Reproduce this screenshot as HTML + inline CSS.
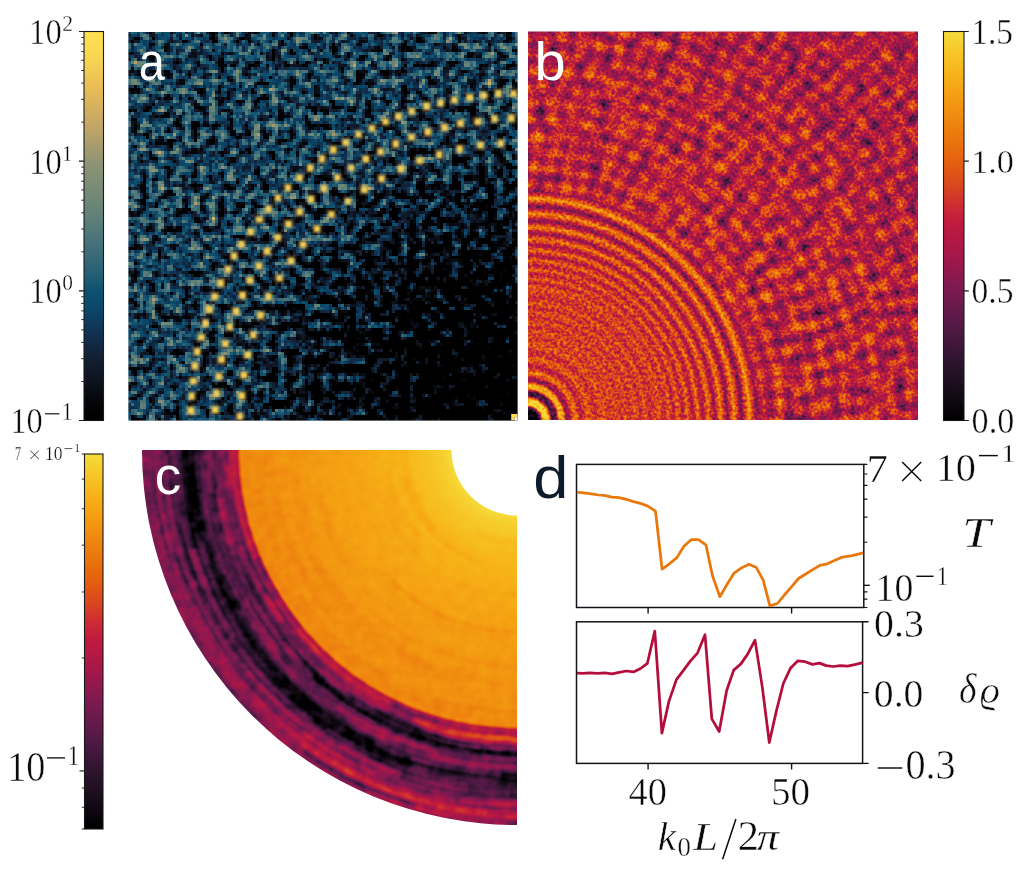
<!DOCTYPE html>
<html><head><meta charset="utf-8"><title>figure</title>
<style>
html,body{margin:0;padding:0;background:#fff}
body{width:1024px;height:895px;overflow:hidden}
svg{display:block}
text{font-family:"Liberation Serif",serif;fill:#111}
</style></head><body>
<svg width="1024" height="895" viewBox="0 0 1024 895">
<defs>
<linearGradient id="gA" x1="0" y1="0" x2="0" y2="1"><stop offset="0.0000" stop-color="#fde24f"/><stop offset="0.0700" stop-color="#f7d552"/><stop offset="0.1450" stop-color="#e9bc55"/><stop offset="0.2500" stop-color="#c0a468"/><stop offset="0.3360" stop-color="#8f9474"/><stop offset="0.4000" stop-color="#7a8c76"/><stop offset="0.4800" stop-color="#5f8078"/><stop offset="0.5500" stop-color="#44707a"/><stop offset="0.6100" stop-color="#2a6375"/><stop offset="0.6670" stop-color="#0d5271"/><stop offset="0.7200" stop-color="#0b4466"/><stop offset="0.7800" stop-color="#10304e"/><stop offset="0.8400" stop-color="#131f33"/><stop offset="0.9000" stop-color="#0d121c"/><stop offset="0.9500" stop-color="#050609"/><stop offset="1.0000" stop-color="#000000"/></linearGradient>
<linearGradient id="gB" x1="0" y1="0" x2="0" y2="1"><stop offset="0.0000" stop-color="#f5dc3a"/><stop offset="0.0500" stop-color="#f7c828"/><stop offset="0.1060" stop-color="#f8b418"/><stop offset="0.1600" stop-color="#f5a012"/><stop offset="0.2200" stop-color="#f08a10"/><stop offset="0.2800" stop-color="#ea750c"/><stop offset="0.3360" stop-color="#e5600f"/><stop offset="0.4000" stop-color="#d94520"/><stop offset="0.4500" stop-color="#cc2b34"/><stop offset="0.4950" stop-color="#c01a3e"/><stop offset="0.5800" stop-color="#a3174b"/><stop offset="0.6670" stop-color="#7a1a50"/><stop offset="0.7530" stop-color="#551a48"/><stop offset="0.8400" stop-color="#301530"/><stop offset="0.9250" stop-color="#150c18"/><stop offset="1.0000" stop-color="#000000"/></linearGradient>
<clipPath id="cpT"><rect x="576.50" y="464.40" width="287.30" height="143.10"/></clipPath>
<clipPath id="cpB"><rect x="576.50" y="621.80" width="287.30" height="141.60"/></clipPath>
<radialGradient id="gaR" gradientUnits="userSpaceOnUse" cx="517.5" cy="420.5" r="560"><stop offset="0.0000" stop-color="#1f1f1f"/><stop offset="0.1607" stop-color="#2b2b2b"/><stop offset="0.2679" stop-color="#454545"/><stop offset="0.3750" stop-color="#616161"/><stop offset="0.4643" stop-color="#787878"/><stop offset="0.4946" stop-color="#808080"/><stop offset="0.5893" stop-color="#8c8c8c"/><stop offset="0.6429" stop-color="#919191"/><stop offset="1.0000" stop-color="#919191"/></radialGradient>
<filter id="fA" filterUnits="userSpaceOnUse" x="128" y="31" width="393" height="393" color-interpolation-filters="sRGB">
<feTurbulence type="fractalNoise" baseFrequency="0.115" numOctaves="3" seed="11" result="n"/>
<feColorMatrix in="n" type="matrix" values="1 0 0 0 0 1 0 0 0 0 1 0 0 0 0 0 0 0 0 1" result="ng"/>
<feComposite in="SourceGraphic" in2="ng" operator="arithmetic" k1="0" k2="1" k3="1.3" k4="-0.955" result="v"/>
<feFlood x="129" y="32" width="1" height="1" flood-color="#000" result="dot"/>
<feComposite in="dot" in2="dot" operator="over" x="128" y="31" width="3" height="3" result="cell"/>
<feTile in="cell" result="grid"/>
<feComposite in="v" in2="grid" operator="in" result="samp"/>
<feMorphology in="samp" operator="dilate" radius="1" result="pix"/>
<feGaussianBlur in="pix" stdDeviation="0.75" result="pixb"/>
<feComponentTransfer in="pixb"><feFuncR type="table" tableValues="0.000 0.010 0.020 0.035 0.051 0.061 0.071 0.072 0.067 0.061 0.053 0.045 0.046 0.050 0.085 0.135 0.182 0.224 0.267 0.304 0.342 0.379 0.412 0.445 0.478 0.511 0.543 0.585 0.641 0.697 0.753 0.791 0.830 0.868 0.906 0.928 0.947 0.965 0.975 0.984 0.992"/><feFuncG type="table" tableValues="0.000 0.012 0.024 0.047 0.071 0.092 0.113 0.138 0.166 0.195 0.227 0.260 0.287 0.313 0.341 0.371 0.397 0.418 0.439 0.462 0.484 0.505 0.520 0.534 0.549 0.561 0.574 0.588 0.607 0.625 0.643 0.666 0.688 0.710 0.733 0.763 0.796 0.829 0.850 0.868 0.886"/><feFuncB type="table" tableValues="0.000 0.018 0.035 0.073 0.110 0.147 0.185 0.226 0.271 0.314 0.353 0.392 0.416 0.437 0.448 0.455 0.462 0.470 0.478 0.476 0.473 0.470 0.468 0.465 0.463 0.460 0.457 0.449 0.435 0.422 0.408 0.390 0.372 0.355 0.337 0.330 0.326 0.322 0.318 0.314 0.310"/></feComponentTransfer>
</filter>
<clipPath id="cpPA"><rect x="128.50" y="32.00" width="389.00" height="388.50"/></clipPath>
<filter id="blA" filterUnits="userSpaceOnUse" x="120" y="24" width="408" height="408"><feGaussianBlur stdDeviation="0.9"/></filter>
<radialGradient id="gbR" gradientUnits="userSpaceOnUse" cx="528.0" cy="420.0" r="560.0"><stop offset="0.0000" stop-color="#000000"/><stop offset="0.0170" stop-color="#000000"/><stop offset="0.0223" stop-color="#595959"/><stop offset="0.0268" stop-color="#ffffff"/><stop offset="0.0357" stop-color="#ffffff"/><stop offset="0.0429" stop-color="#383838"/><stop offset="0.0500" stop-color="#383838"/><stop offset="0.0563" stop-color="#e0e0e0"/><stop offset="0.0625" stop-color="#e0e0e0"/><stop offset="0.0688" stop-color="#666666"/><stop offset="0.0732" stop-color="#666666"/><stop offset="0.0830" stop-color="#bdbdbd"/><stop offset="0.0955" stop-color="#7a7a7a"/><stop offset="0.1080" stop-color="#ababab"/><stop offset="0.1205" stop-color="#878787"/><stop offset="0.1330" stop-color="#a3a3a3"/><stop offset="0.1455" stop-color="#919191"/><stop offset="0.1571" stop-color="#9e9e9e"/><stop offset="0.1659" stop-color="#8c8c8c"/><stop offset="0.1746" stop-color="#9f9f9f"/><stop offset="0.1834" stop-color="#8a8a8a"/><stop offset="0.1921" stop-color="#a1a1a1"/><stop offset="0.2009" stop-color="#898989"/><stop offset="0.2096" stop-color="#a2a2a2"/><stop offset="0.2184" stop-color="#888888"/><stop offset="0.2366" stop-color="#a2a2a2"/><stop offset="0.2442" stop-color="#848484"/><stop offset="0.2518" stop-color="#a5a5a5"/><stop offset="0.2598" stop-color="#7f7f7f"/><stop offset="0.2679" stop-color="#a9a9a9"/><stop offset="0.2763" stop-color="#797979"/><stop offset="0.2848" stop-color="#aeaeae"/><stop offset="0.2938" stop-color="#737373"/><stop offset="0.3027" stop-color="#b3b3b3"/><stop offset="0.3125" stop-color="#6c6c6c"/><stop offset="0.3223" stop-color="#b9b9b9"/><stop offset="0.3330" stop-color="#646464"/><stop offset="0.3438" stop-color="#c0c0c0"/><stop offset="0.3558" stop-color="#5b5b5b"/><stop offset="0.3679" stop-color="#c7c7c7"/><stop offset="0.3812" stop-color="#505050"/><stop offset="0.3946" stop-color="#d0d0d0"/><stop offset="0.4080" stop-color="#616161"/><stop offset="0.4214" stop-color="#969696"/><stop offset="0.4359" stop-color="#636363"/><stop offset="0.4504" stop-color="#969696"/><stop offset="0.4648" stop-color="#636363"/><stop offset="0.4793" stop-color="#969696"/><stop offset="0.4938" stop-color="#636363"/><stop offset="0.5082" stop-color="#969696"/><stop offset="0.5227" stop-color="#636363"/><stop offset="0.5371" stop-color="#969696"/><stop offset="0.5516" stop-color="#636363"/><stop offset="0.5661" stop-color="#959595"/><stop offset="0.5805" stop-color="#616161"/><stop offset="0.5950" stop-color="#949494"/><stop offset="0.6095" stop-color="#616161"/><stop offset="0.6239" stop-color="#929292"/><stop offset="0.6384" stop-color="#606060"/><stop offset="0.6529" stop-color="#909090"/><stop offset="0.6673" stop-color="#5f5f5f"/><stop offset="0.6818" stop-color="#8e8e8e"/><stop offset="0.6963" stop-color="#5e5e5e"/><stop offset="0.7107" stop-color="#8c8c8c"/><stop offset="0.7252" stop-color="#5e5e5e"/><stop offset="0.7396" stop-color="#8b8b8b"/><stop offset="0.7541" stop-color="#5d5d5d"/><stop offset="0.7686" stop-color="#898989"/><stop offset="0.7830" stop-color="#5c5c5c"/><stop offset="0.7975" stop-color="#878787"/><stop offset="0.8120" stop-color="#5b5b5b"/><stop offset="0.8264" stop-color="#858585"/><stop offset="0.8409" stop-color="#5b5b5b"/><stop offset="0.8554" stop-color="#838383"/><stop offset="0.8698" stop-color="#5a5a5a"/><stop offset="0.8843" stop-color="#828282"/><stop offset="0.8988" stop-color="#595959"/><stop offset="0.9132" stop-color="#808080"/><stop offset="0.9277" stop-color="#595959"/><stop offset="0.9421" stop-color="#7e7e7e"/><stop offset="0.9566" stop-color="#585858"/><stop offset="0.9711" stop-color="#7c7c7c"/><stop offset="0.9855" stop-color="#575757"/></radialGradient>
<filter id="fB1" filterUnits="userSpaceOnUse" x="528.0" y="31.5" width="390.0" height="388.5" color-interpolation-filters="sRGB"><feTurbulence type="fractalNoise" baseFrequency="0.075" numOctaves="1" seed="3" result="n1"/><feColorMatrix type="matrix" values="1 0 0 0 0 1 0 0 0 0 1 0 0 0 0 0 0 0 0 1" in="n1" result="g1"/><feTurbulence type="fractalNoise" baseFrequency="0.33" numOctaves="2" seed="7" result="n2"/><feColorMatrix type="matrix" values="1 0 0 0 0 1 0 0 0 0 1 0 0 0 0 0 0 0 0 1" in="n2" result="g2"/><feComposite in="SourceGraphic" in2="g1" operator="arithmetic" k1="0" k2="1" k3="0.550" k4="-0.275" result="v1"/><feComposite in="v1" in2="g2" operator="arithmetic" k1="0" k2="1" k3="0.520" k4="-0.260" result="v"/><feGaussianBlur in="v" stdDeviation="0.6"/><feComponentTransfer><feFuncR type="table" tableValues="0.000 0.027 0.055 0.082 0.113 0.145 0.176 0.213 0.255 0.297 0.338 0.381 0.423 0.465 0.510 0.556 0.602 0.646 0.679 0.713 0.746 0.774 0.800 0.825 0.851 0.869 0.888 0.902 0.911 0.920 0.929 0.939 0.948 0.956 0.963 0.968 0.972 0.970 0.969 0.965 0.961"/><feFuncG type="table" tableValues="0.000 0.016 0.031 0.047 0.057 0.068 0.078 0.086 0.091 0.097 0.102 0.102 0.102 0.102 0.100 0.096 0.093 0.091 0.094 0.098 0.101 0.132 0.169 0.220 0.271 0.312 0.353 0.393 0.429 0.466 0.500 0.534 0.570 0.606 0.642 0.678 0.714 0.749 0.784 0.824 0.863"/><feFuncB type="table" tableValues="0.000 0.031 0.063 0.094 0.122 0.149 0.177 0.204 0.232 0.259 0.283 0.293 0.302 0.311 0.310 0.304 0.299 0.291 0.276 0.261 0.246 0.226 0.204 0.165 0.125 0.099 0.073 0.057 0.051 0.048 0.055 0.061 0.065 0.069 0.075 0.086 0.101 0.129 0.157 0.192 0.227"/></feComponentTransfer></filter>
<filter id="fB2" filterUnits="userSpaceOnUse" x="528.0" y="31.5" width="390.0" height="388.5" color-interpolation-filters="sRGB"><feTurbulence type="fractalNoise" baseFrequency="0.33" numOctaves="2" seed="7" result="n2"/><feColorMatrix type="matrix" values="1 0 0 0 0 1 0 0 0 0 1 0 0 0 0 0 0 0 0 1" in="n2" result="g2"/><feComposite in="SourceGraphic" in2="g2" operator="arithmetic" k1="0" k2="1" k3="0.520" k4="-0.260" result="v"/><feGaussianBlur in="v" stdDeviation="0.6"/><feComponentTransfer><feFuncR type="table" tableValues="0.000 0.027 0.055 0.082 0.113 0.145 0.176 0.213 0.255 0.297 0.338 0.381 0.423 0.465 0.510 0.556 0.602 0.646 0.679 0.713 0.746 0.774 0.800 0.825 0.851 0.869 0.888 0.902 0.911 0.920 0.929 0.939 0.948 0.956 0.963 0.968 0.972 0.970 0.969 0.965 0.961"/><feFuncG type="table" tableValues="0.000 0.016 0.031 0.047 0.057 0.068 0.078 0.086 0.091 0.097 0.102 0.102 0.102 0.102 0.100 0.096 0.093 0.091 0.094 0.098 0.101 0.132 0.169 0.220 0.271 0.312 0.353 0.393 0.429 0.466 0.500 0.534 0.570 0.606 0.642 0.678 0.714 0.749 0.784 0.824 0.863"/><feFuncB type="table" tableValues="0.000 0.031 0.063 0.094 0.122 0.149 0.177 0.204 0.232 0.259 0.283 0.293 0.302 0.311 0.310 0.304 0.299 0.291 0.276 0.261 0.246 0.226 0.204 0.165 0.125 0.099 0.073 0.057 0.051 0.048 0.055 0.061 0.065 0.069 0.075 0.086 0.101 0.129 0.157 0.192 0.227"/></feComponentTransfer></filter>
<filter id="blB" x="-5%%" y="-5%%" width="110%%" height="110%%"><feGaussianBlur stdDeviation="2.2"/></filter>
<clipPath id="cpPB"><rect x="528.00" y="31.50" width="390.00" height="388.50"/></clipPath>
<clipPath id="cpBin"><circle cx="528.0" cy="420.0" r="228.5"/></clipPath>
<radialGradient id="gcR" gradientUnits="userSpaceOnUse" cx="517.0" cy="450.0" r="376"><stop offset="0.0000" stop-color="#ffffff"/><stop offset="0.1729" stop-color="#ffffff"/><stop offset="0.1995" stop-color="#f6f6f6"/><stop offset="0.2926" stop-color="#e6e6e6"/><stop offset="0.4255" stop-color="#dadada"/><stop offset="0.5851" stop-color="#d0d0d0"/><stop offset="0.7128" stop-color="#c8c8c8"/><stop offset="0.7340" stop-color="#c6c6c6"/><stop offset="0.7434" stop-color="#7d7d7d"/><stop offset="0.7713" stop-color="#797979"/><stop offset="0.7899" stop-color="#6b6b6b"/><stop offset="0.8059" stop-color="#4c4c4c"/><stop offset="0.8218" stop-color="#474747"/><stop offset="0.8404" stop-color="#4f4f4f"/><stop offset="0.8564" stop-color="#2b2b2b"/><stop offset="0.8803" stop-color="#141414"/><stop offset="0.8989" stop-color="#2b2b2b"/><stop offset="0.9202" stop-color="#4c4c4c"/><stop offset="0.9468" stop-color="#616161"/><stop offset="0.9787" stop-color="#6a6a6a"/><stop offset="1.0000" stop-color="#6b6b6b"/></radialGradient>
<filter id="fC" filterUnits="userSpaceOnUse" x="140" y="448" width="380" height="380" color-interpolation-filters="sRGB">
<feTurbulence type="fractalNoise" baseFrequency="0.09" numOctaves="2" seed="4" result="n"/>
<feColorMatrix in="n" type="matrix" values="1 0 0 0 0 1 0 0 0 0 1 0 0 0 0 0 0 0 0 1" result="ng"/>
<feComposite in="SourceGraphic" in2="ng" operator="arithmetic" k1="-0.35" k2="1.175" k3="0.35" k4="-0.175" result="v"/>
<feComponentTransfer><feFuncR type="table" tableValues="0.000 0.027 0.055 0.082 0.113 0.145 0.176 0.213 0.255 0.297 0.338 0.381 0.423 0.465 0.510 0.556 0.602 0.646 0.679 0.713 0.746 0.774 0.800 0.825 0.851 0.869 0.888 0.902 0.911 0.920 0.929 0.939 0.948 0.956 0.963 0.968 0.972 0.970 0.969 0.965 0.961"/><feFuncG type="table" tableValues="0.000 0.016 0.031 0.047 0.057 0.068 0.078 0.086 0.091 0.097 0.102 0.102 0.102 0.102 0.100 0.096 0.093 0.091 0.094 0.098 0.101 0.132 0.169 0.220 0.271 0.312 0.353 0.393 0.429 0.466 0.500 0.534 0.570 0.606 0.642 0.678 0.714 0.749 0.784 0.824 0.863"/><feFuncB type="table" tableValues="0.000 0.031 0.063 0.094 0.122 0.149 0.177 0.204 0.232 0.259 0.283 0.293 0.302 0.311 0.310 0.304 0.299 0.291 0.276 0.261 0.246 0.226 0.204 0.165 0.125 0.099 0.073 0.057 0.051 0.048 0.055 0.061 0.065 0.069 0.075 0.086 0.101 0.129 0.157 0.192 0.227"/></feComponentTransfer>
</filter>
<filter id="blC" filterUnits="userSpaceOnUse" x="100" y="420" width="460" height="460"><feGaussianBlur stdDeviation="1.6"/></filter>
<clipPath id="cpPC"><path d="M142.00 450.00H451.50A65.50 65.50 0 0 0 517.00 515.50V825.00A375.00 375.00 0 0 1 142.00 450.00Z"/></clipPath>
<linearGradient id="gcSh" gradientUnits="userSpaceOnUse" x1="142" y1="450" x2="470" y2="800"><stop offset="0" stop-color="#000" stop-opacity="0.22"/><stop offset="0.55" stop-color="#000" stop-opacity="0.10"/><stop offset="1" stop-color="#000" stop-opacity="0"/></linearGradient>
</defs>
<rect x="84.00" y="31.50" width="19.50" height="389.00" fill="url(#gA)" stroke="#1a1a1a" stroke-width="1.1"/>
<rect x="943.50" y="31.50" width="20.50" height="389.00" fill="url(#gB)" stroke="#1a1a1a" stroke-width="1.1"/>
<rect x="84.50" y="454.00" width="18.50" height="375.00" fill="url(#gB)" stroke="#1a1a1a" stroke-width="1.1"/>
<path d="M84.00 420.50h-5.00M84.00 290.83h-5.00M84.00 161.17h-5.00M84.00 31.50h-5.00" stroke="#1a1a1a" stroke-width="1.10" fill="none"/>
<path d="M84.00 381.47h-2.80M84.00 358.63h-2.80M84.00 342.43h-2.80M84.00 329.87h-2.80M84.00 319.60h-2.80M84.00 310.92h-2.80M84.00 303.40h-2.80M84.00 296.77h-2.80M84.00 251.80h-2.80M84.00 228.97h-2.80M84.00 212.77h-2.80M84.00 200.20h-2.80M84.00 189.93h-2.80M84.00 181.25h-2.80M84.00 173.73h-2.80M84.00 167.10h-2.80M84.00 122.13h-2.80M84.00 99.30h-2.80M84.00 83.10h-2.80M84.00 70.53h-2.80M84.00 60.27h-2.80M84.00 51.59h-2.80M84.00 44.07h-2.80M84.00 37.43h-2.80" stroke="#1a1a1a" stroke-width="0.90" fill="none"/>
<path d="M964.00 420.50h4.80M964.00 290.83h4.80M964.00 161.17h4.80M964.00 31.50h4.80" stroke="#1a1a1a" stroke-width="1.10" fill="none"/>
<path d="M84.50 770.91h-5.00" stroke="#1a1a1a" stroke-width="1.10" fill="none"/>
<path d="M84.50 829.00h-2.80M84.50 807.25h-2.80M84.50 788.07h-2.80M84.50 658.03h-2.80M84.50 591.99h-2.80M84.50 545.14h-2.80M84.50 508.80h-2.80M84.50 479.11h-2.80M84.50 454.00h-2.80" stroke="#1a1a1a" stroke-width="0.90" fill="none"/>
<rect x="576.50" y="464.40" width="287.30" height="143.10" fill="none" stroke="#101418" stroke-width="1.5"/>
<rect x="576.50" y="621.80" width="286.10" height="141.60" fill="none" stroke="#101418" stroke-width="1.5"/>
<path d="M648.10 607.50v6.0M791.60 607.50v6.0" stroke="#101418" stroke-width="1.4"/>
<path d="M648.10 763.40v6.0M791.60 763.40v6.0" stroke="#101418" stroke-width="1.4"/>
<path d="M863.80 585.33h6.00" stroke="#101418" stroke-width="1.40" fill="none"/>
<path d="M863.80 607.50h3.60M863.80 599.20h3.60M863.80 591.88h3.60M863.80 542.26h3.60M863.80 517.06h3.60M863.80 499.18h3.60M863.80 485.31h3.60M863.80 473.98h3.60M863.80 464.40h3.60" stroke="#101418" stroke-width="1.20" fill="none"/>
<path d="M862.60 621.80h6.00M862.60 692.60h6.00M862.60 763.40h6.00" stroke="#101418" stroke-width="1.40" fill="none"/>
<path d="M576.8 492.1L589.7 493.6L598.6 495.0L604.0 495.3L612.0 497.1L619.2 497.7L626.3 499.3L633.5 501.6L641.5 503.7L647.8 506.1L655.5 511.1L662.1 569.2L670.1 563.3L676.9 557.6L683.9 546.3L691.2 539.7L698.4 539.7L705.9 544.9L712.5 575.8L719.9 596.7L727.0 584.5L734.1 573.1L741.2 568.1L748.8 564.2L756.1 567.2L763.1 579.9L769.9 605.9L777.4 603.5L784.4 595.0L791.5 586.8L798.5 578.5L805.7 574.0L812.8 569.6L819.9 565.4L827.4 563.8L834.4 560.6L841.4 557.4L852.1 555.6L863.2 552.9" fill="none" stroke="#e9770b" stroke-width="2.75" stroke-linejoin="round" stroke-linecap="butt" clip-path="url(#cpT)"/>
<path d="M576.8 673.2L583.4 673.3L589.7 672.8L597.7 673.3L604.9 672.8L612.0 673.9L619.2 672.3L626.3 671.0L633.5 671.9L640.6 668.5L647.4 663.3L654.8 631.1L661.9 733.1L668.9 701.4L676.4 679.6L683.6 670.1L690.7 660.6L697.5 653.1L705.0 634.7L711.8 718.9L719.2 731.5L726.6 690.7L733.7 670.1L740.9 663.9L747.5 654.4L755.0 640.1L762.3 687.1L769.3 742.5L776.1 712.1L783.3 683.5L790.4 668.3L797.9 660.8L805.1 661.7L812.4 664.4L819.6 663.1L826.2 665.6L833.3 666.5L840.5 665.6L847.6 666.2L854.8 664.7L862.6 662.6" fill="none" stroke="#b40f3c" stroke-width="2.75" stroke-linejoin="round" stroke-linecap="butt" clip-path="url(#cpB)"/>
<g clip-path="url(#cpPA)">
<rect x="128.50" y="32.00" width="389.00" height="388.50" fill="#0a2030"/>
<g filter="url(#fA)"><rect x="124" y="27" width="401" height="401" fill="url(#gaR)"/></g>
<g filter="url(#blA)"><path d="M185.7 405.1h10.3v10.9h-10.3zM187.0 390.9h9.5v10.4h-9.5zM188.2 376.2h10.4v9.9h-10.4zM189.9 360.9h10.0v10.5h-10.0zM192.3 346.2h9.8v10.9h-9.8zM196.3 332.4h10.3v10.0h-10.3zM200.6 317.8h9.5v10.8h-9.5zM204.2 304.0h10.5v10.8h-10.5zM209.8 291.3h10.0v10.6h-10.0zM215.6 277.6h10.2v11.0h-10.2zM223.0 264.2h9.9v10.0h-9.9zM229.2 250.8h9.8v10.5h-9.8zM236.7 239.2h9.8v10.2h-9.8zM245.9 226.7h9.8v10.4h-9.8zM254.1 214.6h10.5v9.8h-10.5zM263.9 203.7h9.5v10.7h-9.5zM273.2 192.9h9.5v9.9h-9.5zM283.1 182.4h9.7v10.7h-9.7zM294.7 172.6h9.8v10.2h-9.8zM305.4 162.6h9.6v10.7h-9.6zM317.3 153.5h9.5v10.9h-9.5zM328.2 144.4h10.1v10.9h-10.1zM340.8 137.5h10.0v10.2h-10.0zM353.7 129.3h9.6v10.0h-9.6zM367.1 123.5h9.7v9.9h-9.7zM380.6 116.6h9.9v10.1h-9.9zM393.6 111.2h10.0v10.3h-10.0zM407.0 106.2h9.5v10.4h-9.5zM421.6 100.6h10.2v10.9h-10.2zM435.8 97.9h9.6v10.3h-9.6zM449.5 94.8h9.8v10.3h-9.8zM464.6 92.3h10.5v10.3h-10.5zM478.8 90.4h10.0v10.1h-10.0zM493.4 88.1h9.9v11.0h-9.9zM508.6 88.6h10.0v10.2h-10.0zM210.0 404.3h10.3v10.8h-10.3zM211.4 388.1h10.3v10.6h-10.3zM214.0 371.2h9.9v10.6h-9.9zM216.3 354.2h10.3v10.6h-10.3zM220.3 338.4h10.1v10.5h-10.1zM224.9 321.6h9.8v10.6h-9.8zM231.0 305.9h10.1v10.8h-10.1zM237.4 290.0h10.2v10.8h-10.2zM244.8 275.1h10.4v10.6h-10.4zM254.0 260.6h10.0v10.4h-10.0zM261.9 246.2h10.4v10.4h-10.4zM272.6 232.5h10.2v10.0h-10.2zM283.4 219.0h10.2v10.3h-10.2zM294.6 206.5h10.1v10.7h-10.1zM306.0 193.9h9.9v10.6h-9.9zM318.8 183.7h10.1v9.9h-10.1zM332.7 172.7h9.6v10.0h-9.6zM346.4 162.9h9.7v9.8h-9.7zM360.8 153.9h10.1v10.5h-10.1zM375.7 146.6h9.5v10.3h-9.5zM391.0 138.5h9.6v10.8h-9.6zM406.5 132.1h10.1v9.9h-10.1zM422.8 126.5h10.1v10.9h-10.1zM439.3 122.2h10.3v10.6h-10.3zM455.4 118.2h10.1v10.5h-10.1zM472.8 116.6h10.1v10.2h-10.1zM489.8 113.6h9.6v10.5h-9.6zM506.2 112.7h10.1v10.9h-10.1zM235.0 411.5h9.7v10.1h-9.7zM236.4 390.3h10.5v10.9h-10.5zM238.6 369.8h10.5v10.4h-10.5zM242.5 349.6h10.5v10.4h-10.5zM248.4 329.7h9.6v10.5h-9.6zM255.4 309.9h10.3v10.8h-10.3zM263.7 291.2h9.8v10.9h-9.8zM274.6 273.1h9.8v10.0h-9.8zM286.0 255.6h10.1v10.4h-10.1zM298.0 239.6h10.2v9.9h-10.2zM312.0 223.6h10.0v10.2h-10.0zM326.4 209.4h10.0v10.2h-10.0zM343.1 196.2h9.5v10.1h-9.5zM359.1 184.3h10.4v10.5h-10.4zM376.6 173.4h9.9v10.5h-9.9zM395.9 163.5h10.0v10.9h-10.0zM414.4 155.6h10.4v10.0h-10.4zM434.4 149.2h9.6v10.8h-9.6zM454.9 143.7h9.8v10.7h-9.8zM475.5 139.9h10.0v10.5h-10.0zM495.8 138.1h9.7v10.5h-9.7z" fill="#baa269" fill-opacity="0.34"/><path d="M187.8 407.2h6.1v6.7h-6.1zM189.1 393.0h5.3v6.2h-5.3zM190.3 378.3h6.2v5.7h-6.2zM192.0 363.0h5.8v6.3h-5.8zM194.4 348.3h5.6v6.7h-5.6zM198.4 334.5h6.1v5.8h-6.1zM202.7 319.9h5.3v6.6h-5.3zM206.3 306.1h6.3v6.6h-6.3zM211.9 293.4h5.8v6.4h-5.8zM217.7 279.7h6.0v6.8h-6.0zM225.1 266.3h5.7v5.8h-5.7zM231.3 252.9h5.6v6.3h-5.6zM238.8 241.3h5.6v6.0h-5.6zM248.0 228.8h5.6v6.2h-5.6zM256.2 216.7h6.3v5.6h-6.3zM266.0 205.8h5.3v6.5h-5.3zM275.3 195.0h5.3v5.7h-5.3zM285.2 184.5h5.5v6.5h-5.5zM296.8 174.7h5.6v6.0h-5.6zM307.5 164.7h5.4v6.5h-5.4zM319.4 155.6h5.3v6.7h-5.3zM330.3 146.5h5.9v6.7h-5.9zM342.9 139.6h5.8v6.0h-5.8zM355.8 131.4h5.4v5.8h-5.4zM369.2 125.6h5.5v5.7h-5.5zM382.7 118.7h5.7v5.9h-5.7zM395.7 113.3h5.8v6.1h-5.8zM409.1 108.3h5.3v6.2h-5.3zM423.7 102.7h6.0v6.7h-6.0zM437.9 100.0h5.4v6.1h-5.4zM451.6 96.9h5.6v6.1h-5.6zM466.7 94.4h6.3v6.1h-6.3zM480.9 92.5h5.8v5.9h-5.8zM495.5 90.2h5.7v6.8h-5.7zM510.7 90.7h5.8v6.0h-5.8zM212.1 406.4h6.1v6.6h-6.1zM213.5 390.2h6.1v6.4h-6.1zM216.1 373.3h5.7v6.4h-5.7zM218.4 356.3h6.1v6.4h-6.1zM222.4 340.5h5.9v6.3h-5.9zM227.0 323.7h5.6v6.4h-5.6zM233.1 308.0h5.9v6.6h-5.9zM239.5 292.1h6.0v6.6h-6.0zM246.9 277.2h6.2v6.4h-6.2zM256.1 262.7h5.8v6.2h-5.8zM264.0 248.3h6.2v6.2h-6.2zM274.7 234.6h6.0v5.8h-6.0zM285.5 221.1h6.0v6.1h-6.0zM296.7 208.6h5.9v6.5h-5.9zM308.1 196.0h5.7v6.4h-5.7zM320.9 185.8h5.9v5.7h-5.9zM334.8 174.8h5.4v5.8h-5.4zM348.5 165.0h5.5v5.6h-5.5zM362.9 156.0h5.9v6.3h-5.9zM377.8 148.7h5.3v6.1h-5.3zM393.1 140.6h5.4v6.6h-5.4zM408.6 134.2h5.9v5.7h-5.9zM424.9 128.6h5.9v6.7h-5.9zM441.4 124.3h6.1v6.4h-6.1zM457.5 120.3h5.9v6.3h-5.9zM474.9 118.7h5.9v6.0h-5.9zM491.9 115.7h5.4v6.3h-5.4zM508.3 114.8h5.9v6.7h-5.9zM237.1 413.6h5.5v5.9h-5.5zM238.5 392.4h6.3v6.7h-6.3zM240.7 371.9h6.3v6.2h-6.3zM244.6 351.7h6.3v6.2h-6.3zM250.5 331.8h5.4v6.3h-5.4zM257.5 312.0h6.1v6.6h-6.1zM265.8 293.3h5.6v6.7h-5.6zM276.7 275.2h5.6v5.8h-5.6zM288.1 257.7h5.9v6.2h-5.9zM300.1 241.7h6.0v5.7h-6.0zM314.1 225.7h5.8v6.0h-5.8zM328.5 211.5h5.8v6.0h-5.8zM345.2 198.3h5.3v5.9h-5.3zM361.2 186.4h6.2v6.3h-6.2zM378.7 175.5h5.7v6.3h-5.7zM398.0 165.6h5.8v6.7h-5.8zM416.5 157.7h6.2v5.8h-6.2zM436.5 151.3h5.4v6.6h-5.4zM457.0 145.8h5.6v6.5h-5.6zM477.6 142.0h5.8v6.3h-5.8zM497.9 140.2h5.5v6.3h-5.5z" fill="#f3ce53"/></g>
<path d="M511.2 414H517.9V417.2H514.6V420.6H511.2Z" fill="#fadc50"/>
<rect x="514.6" y="417.2" width="4" height="4" fill="#fff"/>
</g>
<g clip-path="url(#cpPB)">
<g filter="url(#fB1)">
<rect x="526.0" y="29.5" width="394.0" height="392.5" fill="url(#gbR)"/>
<g filter="url(#blB)"><path d="M759.8 428.4L792.2 429.6A264.3 264.3 0 0 0 792.3 420.5L759.9 420.4A231.9 231.9 0 0 1 759.8 428.4ZM759.7 409.3L792.1 407.8A264.3 264.3 0 0 0 791.5 398.4L759.2 401.0A231.9 231.9 0 0 1 759.7 409.3ZM758.5 394.2L790.7 390.5A264.3 264.3 0 0 0 789.5 381.3L757.5 386.1A231.9 231.9 0 0 1 758.5 394.2ZM755.9 376.9L787.8 370.9A264.3 264.3 0 0 0 786.0 362.5L754.4 369.5A231.9 231.9 0 0 1 755.9 376.9ZM753.1 364.1L784.6 356.3A264.3 264.3 0 0 0 782.0 346.8L750.9 355.8A231.9 231.9 0 0 1 753.1 364.1ZM747.3 344.5L778.0 333.9A264.3 264.3 0 0 0 774.9 325.5L744.6 337.0A231.9 231.9 0 0 1 747.3 344.5ZM742.4 331.4L772.3 319.0A264.3 264.3 0 0 0 768.9 311.1L739.4 324.5A231.9 231.9 0 0 1 742.4 331.4ZM735.1 315.5L764.0 300.9A264.3 264.3 0 0 0 760.0 293.3L731.6 308.8A231.9 231.9 0 0 1 735.1 315.5ZM727.2 301.2L755.0 284.6A264.3 264.3 0 0 0 749.5 275.8L722.4 293.4A231.9 231.9 0 0 1 727.2 301.2ZM717.8 286.7L744.4 268.1A264.3 264.3 0 0 0 738.3 259.8L712.5 279.4A231.9 231.9 0 0 1 717.8 286.7ZM709.3 275.4L734.7 255.2A264.3 264.3 0 0 0 727.8 246.9L703.3 268.1A231.9 231.9 0 0 1 709.3 275.4ZM696.6 260.7L720.1 238.4A264.3 264.3 0 0 0 713.2 231.3L690.5 254.5A231.9 231.9 0 0 1 696.6 260.7ZM686.5 250.7L708.6 227.0A264.3 264.3 0 0 0 700.5 219.7L679.4 244.3A231.9 231.9 0 0 1 686.5 250.7ZM673.4 239.3L693.7 214.0A264.3 264.3 0 0 0 686.4 208.4L667.0 234.3A231.9 231.9 0 0 1 673.4 239.3ZM659.4 228.8L677.7 202.1A264.3 264.3 0 0 0 668.6 196.2L651.4 223.6A231.9 231.9 0 0 1 659.4 228.8ZM645.8 220.2L662.3 192.3A264.3 264.3 0 0 0 653.0 187.1L637.7 215.6A231.9 231.9 0 0 1 645.8 220.2ZM631.2 212.3L645.6 183.2A264.3 264.3 0 0 0 635.8 178.6L622.6 208.2A231.9 231.9 0 0 1 631.2 212.3ZM614.9 204.9L627.0 174.9A264.3 264.3 0 0 0 618.1 171.5L607.0 201.9A231.9 231.9 0 0 1 614.9 204.9ZM600.8 199.8L610.9 169.0A264.3 264.3 0 0 0 603.1 166.5L593.9 197.6A231.9 231.9 0 0 1 600.8 199.8ZM584.5 195.0L592.4 163.6A264.3 264.3 0 0 0 582.7 161.4L576.0 193.1A231.9 231.9 0 0 1 584.5 195.0ZM568.8 191.7L574.5 159.8A264.3 264.3 0 0 0 564.9 158.2L560.4 190.3A231.9 231.9 0 0 1 568.8 191.7ZM552.2 189.3L555.5 157.1A264.3 264.3 0 0 0 545.7 156.2L543.5 188.6A231.9 231.9 0 0 1 552.2 189.3ZM537.5 188.2L538.8 155.9A264.3 264.3 0 0 0 530.3 155.7L530.0 188.1A231.9 231.9 0 0 1 537.5 188.2ZM518.1 188.3L516.7 155.9A264.3 264.3 0 0 0 508.0 156.4L510.5 188.7A231.9 231.9 0 0 1 518.1 188.3ZM792.1 432.5L824.4 434.0A296.7 296.7 0 0 0 824.7 424.2L792.3 423.8A264.3 264.3 0 0 1 792.1 432.5ZM792.3 413.5L824.7 412.7A296.7 296.7 0 0 0 824.2 402.5L791.9 404.4A264.3 264.3 0 0 1 792.3 413.5ZM791.0 393.6L823.3 390.3A296.7 296.7 0 0 0 821.9 378.9L789.8 383.4A264.3 264.3 0 0 1 791.0 393.6ZM788.8 376.6L820.7 371.3A296.7 296.7 0 0 0 818.9 361.3L787.1 367.7A264.3 264.3 0 0 1 788.8 376.6ZM784.3 355.1L815.7 347.2A296.7 296.7 0 0 0 813.3 338.5L782.2 347.4A264.3 264.3 0 0 1 784.3 355.1ZM780.1 340.6L811.1 330.9A296.7 296.7 0 0 0 807.5 320.3L777.0 331.2A264.3 264.3 0 0 1 780.1 340.6ZM773.8 322.8L803.9 310.8A296.7 296.7 0 0 0 800.3 302.0L770.5 314.9A264.3 264.3 0 0 1 773.8 322.8ZM765.1 303.2L794.2 288.9A296.7 296.7 0 0 0 788.9 278.7L760.4 294.1A264.3 264.3 0 0 1 765.1 303.2ZM757.1 288.1L785.1 271.9A296.7 296.7 0 0 0 780.5 264.0L752.9 281.1A264.3 264.3 0 0 1 757.1 288.1ZM746.9 271.9L773.8 253.7A296.7 296.7 0 0 0 767.8 245.2L741.6 264.3A264.3 264.3 0 0 1 746.9 271.9ZM735.2 255.8L760.6 235.7A296.7 296.7 0 0 0 753.6 227.3L729.0 248.3A264.3 264.3 0 0 1 735.2 255.8ZM722.2 240.7L746.1 218.7A296.7 296.7 0 0 0 738.7 211.0L715.7 233.9A264.3 264.3 0 0 1 722.2 240.7ZM710.1 228.4L732.5 204.9A296.7 296.7 0 0 0 725.1 198.1L703.5 222.4A264.3 264.3 0 0 1 710.1 228.4ZM695.7 215.7L716.3 190.6A296.7 296.7 0 0 0 707.4 183.6L687.8 209.4A264.3 264.3 0 0 1 695.7 215.7ZM679.2 203.2L697.7 176.6A296.7 296.7 0 0 0 689.7 171.2L672.0 198.3A264.3 264.3 0 0 1 679.2 203.2ZM662.8 192.6L679.4 164.8A296.7 296.7 0 0 0 670.3 159.6L654.7 188.0A264.3 264.3 0 0 1 662.8 192.6ZM648.1 184.5L662.8 155.6A296.7 296.7 0 0 0 654.2 151.4L640.4 180.8A264.3 264.3 0 0 1 648.1 184.5ZM630.0 176.1L642.5 146.2A296.7 296.7 0 0 0 633.6 142.7L622.1 173.0A264.3 264.3 0 0 1 630.0 176.1ZM613.1 169.7L623.5 139.0A296.7 296.7 0 0 0 612.0 135.4L602.8 166.4A264.3 264.3 0 0 1 613.1 169.7ZM593.6 163.9L601.7 132.5A296.7 296.7 0 0 0 590.4 129.9L583.6 161.6A264.3 264.3 0 0 1 593.6 163.9ZM578.5 160.5L584.7 128.7A296.7 296.7 0 0 0 573.3 126.7L568.3 158.7A264.3 264.3 0 0 1 578.5 160.5ZM558.4 157.4L562.1 125.2A296.7 296.7 0 0 0 552.4 124.3L549.8 156.5A264.3 264.3 0 0 1 558.4 157.4ZM541.3 156.0L543.0 123.6A296.7 296.7 0 0 0 532.8 123.3L532.3 155.7A264.3 264.3 0 0 1 541.3 156.0ZM520.5 155.8L519.6 123.4A296.7 296.7 0 0 0 510.2 123.8L512.1 156.1A264.3 264.3 0 0 1 520.5 155.8ZM824.7 427.5L857.0 428.3A329.1 329.1 0 0 0 857.1 418.8L824.7 418.9A296.7 296.7 0 0 1 824.7 427.5ZM824.4 405.7L856.8 404.1A329.1 329.1 0 0 0 856.1 393.4L823.8 396.0A296.7 296.7 0 0 1 824.4 405.7ZM823.0 387.7L855.2 384.2A329.1 329.1 0 0 0 853.9 374.0L821.8 378.5A296.7 296.7 0 0 1 823.0 387.7ZM820.1 367.6L852.0 361.9A329.1 329.1 0 0 0 849.9 351.5L818.2 358.2A296.7 296.7 0 0 1 820.1 367.6ZM816.0 348.3L847.4 340.5A329.1 329.1 0 0 0 844.7 330.3L813.5 339.1A296.7 296.7 0 0 1 816.0 348.3ZM810.8 330.2L841.7 320.4A329.1 329.1 0 0 0 838.8 311.7L808.2 322.3A296.7 296.7 0 0 1 810.8 330.2ZM804.8 313.2L835.1 301.5A329.1 329.1 0 0 0 830.5 290.4L800.8 303.1A296.7 296.7 0 0 1 804.8 313.2ZM796.7 294.0L826.0 280.2A329.1 329.1 0 0 0 821.3 270.7L792.5 285.4A296.7 296.7 0 0 1 796.7 294.0ZM787.5 276.0L815.8 260.3A329.1 329.1 0 0 0 810.0 250.3L782.3 267.0A296.7 296.7 0 0 1 787.5 276.0ZM778.2 260.4L805.5 243.0A329.1 329.1 0 0 0 800.5 235.4L773.7 253.6A296.7 296.7 0 0 1 778.2 260.4ZM768.7 246.4L794.9 227.4A329.1 329.1 0 0 0 789.5 220.1L763.7 239.8A296.7 296.7 0 0 1 768.7 246.4ZM755.1 229.0L779.9 208.2A329.1 329.1 0 0 0 773.4 200.6L749.2 222.2A296.7 296.7 0 0 1 755.1 229.0ZM743.5 216.0L767.0 193.7A329.1 329.1 0 0 0 760.2 186.7L737.4 209.7A296.7 296.7 0 0 1 743.5 216.0ZM728.6 201.3L750.4 177.4A329.1 329.1 0 0 0 743.5 171.2L722.3 195.7A296.7 296.7 0 0 1 728.6 201.3ZM713.5 188.3L733.7 163.0A329.1 329.1 0 0 0 724.6 156.0L705.2 182.0A296.7 296.7 0 0 1 713.5 188.3ZM696.5 175.7L714.9 149.1A329.1 329.1 0 0 0 706.6 143.5L689.1 170.8A296.7 296.7 0 0 1 696.5 175.7ZM683.7 167.4L700.8 139.8A329.1 329.1 0 0 0 691.7 134.4L675.6 162.6A296.7 296.7 0 0 1 683.7 167.4ZM666.7 157.6L681.8 129.0A329.1 329.1 0 0 0 672.5 124.3L658.3 153.4A296.7 296.7 0 0 1 666.7 157.6ZM648.8 148.9L661.9 119.3A329.1 329.1 0 0 0 651.9 115.0L639.7 145.1A296.7 296.7 0 0 1 648.8 148.9ZM627.4 140.4L638.2 109.8A329.1 329.1 0 0 0 627.5 106.3L617.7 137.1A296.7 296.7 0 0 1 627.4 140.4ZM611.5 135.2L620.6 104.2A329.1 329.1 0 0 0 611.4 101.6L603.2 132.9A296.7 296.7 0 0 1 611.5 135.2ZM591.3 130.1L598.2 98.4A329.1 329.1 0 0 0 588.9 96.5L582.9 128.4A296.7 296.7 0 0 1 591.3 130.1ZM575.3 127.0L580.4 95.1A329.1 329.1 0 0 0 571.3 93.7L567.1 125.8A296.7 296.7 0 0 1 575.3 127.0ZM555.8 124.6L558.8 92.3A329.1 329.1 0 0 0 548.4 91.5L546.4 123.8A296.7 296.7 0 0 1 555.8 124.6ZM535.8 123.4L536.7 91.0A329.1 329.1 0 0 0 524.4 90.9L524.8 123.3A296.7 296.7 0 0 1 535.8 123.4ZM513.7 123.6L512.1 91.2A329.1 329.1 0 0 0 500.6 92.0L503.3 124.3A296.7 296.7 0 0 1 513.7 123.6ZM857.1 420.4L873.3 420.4A345.3 345.3 0 0 0 873.2 411.2L857.0 411.6A329.1 329.1 0 0 1 857.1 420.4ZM856.7 403.4L872.9 402.6A345.3 345.3 0 0 0 872.4 394.6L856.3 395.8A329.1 329.1 0 0 1 856.7 403.4ZM855.4 386.6L871.6 384.9A345.3 345.3 0 0 0 870.5 375.4L854.4 377.5A329.1 329.1 0 0 1 855.4 386.6ZM853.3 370.1L869.4 367.6A345.3 345.3 0 0 0 868.0 359.4L852.0 362.3A329.1 329.1 0 0 1 853.3 370.1ZM850.3 353.1L866.1 349.8A345.3 345.3 0 0 0 864.3 341.4L848.5 345.1A329.1 329.1 0 0 1 850.3 353.1ZM846.0 335.2L861.7 331.0A345.3 345.3 0 0 0 859.5 323.3L844.0 327.8A329.1 329.1 0 0 1 846.0 335.2ZM841.9 321.0L857.4 316.1A345.3 345.3 0 0 0 854.7 308.0L839.4 313.3A329.1 329.1 0 0 1 841.9 321.0ZM835.4 302.3L850.5 296.6A345.3 345.3 0 0 0 846.9 287.5L831.9 293.7A329.1 329.1 0 0 1 835.4 302.3ZM828.9 286.6L843.7 280.0A345.3 345.3 0 0 0 839.4 270.6L824.8 277.6A329.1 329.1 0 0 1 828.9 286.6ZM822.0 272.1L836.5 264.8A345.3 345.3 0 0 0 833.0 258.0L818.7 265.6A329.1 329.1 0 0 1 822.0 272.1ZM813.6 256.5L827.7 248.4A345.3 345.3 0 0 0 823.2 240.8L809.3 249.2A329.1 329.1 0 0 1 813.6 256.5ZM805.4 242.8L819.0 234.1A345.3 345.3 0 0 0 813.8 226.1L800.4 235.2A329.1 329.1 0 0 1 805.4 242.8ZM795.3 228.0L808.5 218.5A345.3 345.3 0 0 0 803.6 211.9L790.7 221.6A329.1 329.1 0 0 1 795.3 228.0ZM785.0 214.3L797.6 204.2A345.3 345.3 0 0 0 791.0 196.2L778.7 206.7A329.1 329.1 0 0 1 785.0 214.3ZM774.7 202.1L786.9 191.4A345.3 345.3 0 0 0 781.1 185.0L769.2 196.0A329.1 329.1 0 0 1 774.7 202.1ZM762.2 188.7L773.7 177.3A345.3 345.3 0 0 0 767.9 171.6L756.6 183.2A329.1 329.1 0 0 1 762.2 188.7ZM749.3 176.3L760.2 164.4A345.3 345.3 0 0 0 754.0 158.9L743.4 171.1A329.1 329.1 0 0 1 749.3 176.3ZM734.7 163.8L744.8 151.2A345.3 345.3 0 0 0 737.7 145.6L727.9 158.5A329.1 329.1 0 0 1 734.7 163.8ZM721.7 153.9L731.3 140.8A345.3 345.3 0 0 0 724.7 136.1L715.5 149.4A329.1 329.1 0 0 1 721.7 153.9ZM708.3 144.7L717.2 131.1A345.3 345.3 0 0 0 709.3 126.1L700.8 139.9A329.1 329.1 0 0 1 708.3 144.7ZM692.3 134.8L700.4 120.8A345.3 345.3 0 0 0 693.2 116.7L685.4 130.9A329.1 329.1 0 0 1 692.3 134.8ZM678.6 127.3L686.0 112.9A345.3 345.3 0 0 0 677.0 108.4L670.0 123.1A329.1 329.1 0 0 1 678.6 127.3ZM661.7 119.2L668.2 104.4A345.3 345.3 0 0 0 660.7 101.1L654.4 116.1A329.1 329.1 0 0 1 661.7 119.2ZM646.9 113.1L652.7 98.0A345.3 345.3 0 0 0 643.5 94.5L638.1 109.8A329.1 329.1 0 0 1 646.9 113.1ZM631.2 107.4L636.3 92.1A345.3 345.3 0 0 0 627.2 89.2L622.5 104.7A329.1 329.1 0 0 1 631.2 107.4ZM613.6 102.2L617.9 86.5A345.3 345.3 0 0 0 607.8 84.0L604.0 99.7A329.1 329.1 0 0 1 613.6 102.2ZM597.3 98.2L600.7 82.4A345.3 345.3 0 0 0 591.4 80.5L588.4 96.4A329.1 329.1 0 0 1 597.3 98.2ZM581.2 95.2L583.8 79.2A345.3 345.3 0 0 0 574.2 77.8L572.1 93.8A329.1 329.1 0 0 1 581.2 95.2ZM564.3 92.9L566.1 76.8A345.3 345.3 0 0 0 557.1 75.9L555.7 92.0A329.1 329.1 0 0 1 564.3 92.9ZM546.9 91.4L547.9 75.2A345.3 345.3 0 0 0 539.4 74.8L538.9 91.0A329.1 329.1 0 0 1 546.9 91.4ZM530.6 90.9L530.8 74.7A345.3 345.3 0 0 0 522.5 74.7L522.8 90.9A329.1 329.1 0 0 1 530.6 90.9ZM511.7 91.3L510.9 75.1A345.3 345.3 0 0 0 502.6 75.6L503.8 91.7A329.1 329.1 0 0 1 511.7 91.3ZM873.2 431.5L889.3 432.0A361.5 361.5 0 0 0 889.5 422.5L873.3 422.4A345.3 345.3 0 0 1 873.2 431.5ZM873.3 414.5L889.5 414.3A361.5 361.5 0 0 0 889.2 404.2L873.0 404.9A345.3 345.3 0 0 1 873.3 414.5ZM872.4 394.9L888.6 393.7A361.5 361.5 0 0 0 887.8 384.3L871.7 385.9A345.3 345.3 0 0 1 872.4 394.9ZM871.0 380.2L887.1 378.3A361.5 361.5 0 0 0 886.1 369.9L870.0 372.2A345.3 345.3 0 0 1 871.0 380.2ZM868.7 363.3L884.7 360.7A361.5 361.5 0 0 0 882.9 351.2L867.0 354.3A345.3 345.3 0 0 1 868.7 363.3ZM864.7 343.0L880.5 339.4A361.5 361.5 0 0 0 878.4 330.9L862.7 334.9A345.3 345.3 0 0 1 864.7 343.0ZM860.8 327.6L876.4 323.2A361.5 361.5 0 0 0 873.7 314.0L858.2 318.8A345.3 345.3 0 0 1 860.8 327.6ZM855.8 311.2L871.1 306.1A361.5 361.5 0 0 0 867.9 296.7L852.6 302.2A345.3 345.3 0 0 1 855.8 311.2ZM849.6 294.1L864.7 288.2A361.5 361.5 0 0 0 860.7 278.5L845.8 284.9A345.3 345.3 0 0 1 849.6 294.1ZM842.2 276.8L857.0 270.0A361.5 361.5 0 0 0 853.5 262.6L838.9 269.6A345.3 345.3 0 0 1 842.2 276.8ZM834.6 261.1L849.0 253.7A361.5 361.5 0 0 0 844.2 244.7L830.1 252.6A345.3 345.3 0 0 1 834.6 261.1ZM827.6 248.3L841.7 240.2A361.5 361.5 0 0 0 837.4 232.9L823.5 241.3A345.3 345.3 0 0 1 827.6 248.3ZM816.8 230.6L830.3 221.7A361.5 361.5 0 0 0 824.6 213.2L811.3 222.5A345.3 345.3 0 0 1 816.8 230.6ZM807.4 217.0L820.5 207.5A361.5 361.5 0 0 0 814.6 199.6L801.7 209.4A345.3 345.3 0 0 1 807.4 217.0ZM796.6 202.9L809.2 192.7A361.5 361.5 0 0 0 802.4 184.6L790.1 195.1A345.3 345.3 0 0 1 796.6 202.9ZM784.7 188.9L796.7 178.1A361.5 361.5 0 0 0 790.0 170.8L778.2 182.0A345.3 345.3 0 0 1 784.7 188.9ZM772.8 176.4L784.3 165.0A361.5 361.5 0 0 0 778.1 159.0L766.9 170.7A345.3 345.3 0 0 1 772.8 176.4ZM760.1 164.3L771.0 152.3A361.5 361.5 0 0 0 763.6 145.7L753.0 158.0A345.3 345.3 0 0 1 760.1 164.3ZM746.9 152.9L757.2 140.4A361.5 361.5 0 0 0 749.9 134.5L739.9 147.3A345.3 345.3 0 0 1 746.9 152.9ZM735.8 144.2L745.6 131.3A361.5 361.5 0 0 0 737.5 125.3L728.1 138.5A345.3 345.3 0 0 1 735.8 144.2ZM721.1 133.7L730.1 120.2A361.5 361.5 0 0 0 723.2 115.7L714.5 129.3A345.3 345.3 0 0 1 721.1 133.7ZM704.1 122.9L712.4 109.0A361.5 361.5 0 0 0 703.3 103.8L695.5 118.0A345.3 345.3 0 0 1 704.1 122.9ZM688.2 114.1L695.7 99.7A361.5 361.5 0 0 0 686.8 95.2L679.7 109.8A345.3 345.3 0 0 1 688.2 114.1ZM674.2 107.1L681.0 92.4A361.5 361.5 0 0 0 674.0 89.2L667.4 104.0A345.3 345.3 0 0 1 674.2 107.1ZM656.7 99.5L662.7 84.5A361.5 361.5 0 0 0 654.6 81.3L648.9 96.5A345.3 345.3 0 0 1 656.7 99.5ZM641.9 94.0L647.3 78.7A361.5 361.5 0 0 0 639.4 76.1L634.4 91.5A345.3 345.3 0 0 1 641.9 94.0ZM626.9 89.1L631.5 73.6A361.5 361.5 0 0 0 624.1 71.5L619.8 87.1A345.3 345.3 0 0 1 626.9 89.1ZM609.9 84.5L613.7 68.8A361.5 361.5 0 0 0 605.1 66.8L601.7 82.6A345.3 345.3 0 0 1 609.9 84.5ZM591.3 80.5L594.3 64.6A361.5 361.5 0 0 0 585.9 63.1L583.3 79.1A345.3 345.3 0 0 1 591.3 80.5ZM574.6 77.8L576.8 61.8A361.5 361.5 0 0 0 566.7 60.5L564.9 76.6A345.3 345.3 0 0 1 574.6 77.8ZM555.1 75.7L556.4 59.6A361.5 361.5 0 0 0 546.1 58.9L545.3 75.1A345.3 345.3 0 0 1 555.1 75.7ZM541.1 74.9L541.7 58.7A361.5 361.5 0 0 0 531.5 58.5L531.4 74.7A345.3 345.3 0 0 1 541.1 74.9ZM523.6 74.7L523.4 58.5A361.5 361.5 0 0 0 515.3 58.7L515.8 74.9A345.3 345.3 0 0 1 523.6 74.7ZM889.5 420.0L921.9 420.0A393.9 393.9 0 0 0 921.8 410.3L889.4 411.1A361.5 361.5 0 0 1 889.5 420.0ZM889.1 402.9L921.5 401.4A393.9 393.9 0 0 0 920.9 391.1L888.6 393.4A361.5 361.5 0 0 1 889.1 402.9ZM887.7 383.1L919.9 379.8A393.9 393.9 0 0 0 918.6 368.8L886.5 373.0A361.5 361.5 0 0 1 887.7 383.1ZM885.7 367.7L917.8 363.0A393.9 393.9 0 0 0 916.5 354.5L884.5 359.9A361.5 361.5 0 0 1 885.7 367.7ZM882.6 349.7L914.4 343.4A393.9 393.9 0 0 0 912.7 334.9L881.0 341.9A361.5 361.5 0 0 1 882.6 349.7ZM878.7 332.0L910.1 324.2A393.9 393.9 0 0 0 908.0 316.0L876.7 324.6A361.5 361.5 0 0 1 878.7 332.0ZM873.5 313.6L904.5 304.0A393.9 393.9 0 0 0 901.8 295.7L871.1 305.9A361.5 361.5 0 0 1 873.5 313.6ZM867.0 294.4L897.4 283.2A393.9 393.9 0 0 0 893.7 273.5L863.6 285.6A361.5 361.5 0 0 1 867.0 294.4ZM859.8 276.3L889.5 263.4A393.9 393.9 0 0 0 884.8 253.0L855.4 266.7A361.5 361.5 0 0 1 859.8 276.3ZM852.5 260.5L881.6 246.2A393.9 393.9 0 0 0 876.4 236.1L847.7 251.2A361.5 361.5 0 0 1 852.5 260.5ZM845.5 247.1L874.0 231.6A393.9 393.9 0 0 0 869.5 223.6L841.4 239.8A361.5 361.5 0 0 1 845.5 247.1ZM834.3 227.8L861.7 210.6A393.9 393.9 0 0 0 856.3 202.3L829.3 220.2A361.5 361.5 0 0 1 834.3 227.8ZM825.9 215.2L852.6 196.8A393.9 393.9 0 0 0 846.4 188.0L820.2 207.1A361.5 361.5 0 0 1 825.9 215.2ZM814.6 199.6L840.3 179.8A393.9 393.9 0 0 0 834.0 171.9L808.8 192.3A361.5 361.5 0 0 1 814.6 199.6ZM803.4 185.7L828.1 164.7A393.9 393.9 0 0 0 822.0 157.8L797.9 179.4A361.5 361.5 0 0 1 803.4 185.7ZM791.8 172.8L815.5 150.7A393.9 393.9 0 0 0 808.3 143.2L785.3 166.0A361.5 361.5 0 0 1 791.8 172.8ZM776.2 157.1L798.5 133.6A393.9 393.9 0 0 0 790.0 125.8L768.4 150.0A361.5 361.5 0 0 1 776.2 157.1ZM763.2 145.4L784.3 120.8A393.9 393.9 0 0 0 775.6 113.6L755.2 138.8A361.5 361.5 0 0 1 763.2 145.4ZM750.4 135.0L770.3 109.4A393.9 393.9 0 0 0 762.9 103.8L743.6 129.8A361.5 361.5 0 0 1 750.4 135.0ZM733.7 122.6L752.1 96.0A393.9 393.9 0 0 0 743.6 90.3L725.8 117.4A361.5 361.5 0 0 1 733.7 122.6ZM719.3 113.2L736.4 85.7A393.9 393.9 0 0 0 729.2 81.3L712.7 109.2A361.5 361.5 0 0 1 719.3 113.2ZM705.2 104.9L721.1 76.6A393.9 393.9 0 0 0 712.4 71.9L697.2 100.5A361.5 361.5 0 0 1 705.2 104.9ZM687.0 95.3L701.3 66.2A393.9 393.9 0 0 0 691.3 61.5L677.9 91.0A361.5 361.5 0 0 1 687.0 95.3ZM670.3 87.6L683.0 57.8A393.9 393.9 0 0 0 674.3 54.2L662.2 84.3A361.5 361.5 0 0 1 670.3 87.6ZM654.8 81.4L666.2 51.1A393.9 393.9 0 0 0 655.7 47.3L645.2 78.0A361.5 361.5 0 0 1 654.8 81.4ZM634.9 74.6L644.5 43.7A393.9 393.9 0 0 0 635.0 40.9L626.2 72.0A361.5 361.5 0 0 1 634.9 74.6ZM620.7 70.5L629.0 39.2A393.9 393.9 0 0 0 618.9 36.7L611.5 68.2A361.5 361.5 0 0 1 620.7 70.5ZM601.4 66.0L608.0 34.3A393.9 393.9 0 0 0 598.6 32.4L592.8 64.3A361.5 361.5 0 0 1 601.4 66.0ZM584.7 62.9L589.8 30.9A393.9 393.9 0 0 0 580.3 29.5L576.0 61.6A361.5 361.5 0 0 1 584.7 62.9ZM564.9 60.3L568.2 28.1A393.9 393.9 0 0 0 559.4 27.3L556.8 59.6A361.5 361.5 0 0 1 564.9 60.3ZM546.9 58.9L548.6 26.6A393.9 393.9 0 0 0 537.2 26.2L536.5 58.5A361.5 361.5 0 0 1 546.9 58.9ZM527.7 58.5L527.7 26.1A393.9 393.9 0 0 0 518.5 26.2L519.3 58.6A361.5 361.5 0 0 1 527.7 58.5ZM510.8 58.9L509.3 26.5A393.9 393.9 0 0 0 500.6 27.0L502.9 59.3A361.5 361.5 0 0 1 510.8 58.9ZM921.7 434.8L970.2 436.7A442.5 442.5 0 0 0 970.5 426.1L921.9 425.5A393.9 393.9 0 0 1 921.7 434.8ZM921.9 416.5L970.5 416.1A442.5 442.5 0 0 0 970.3 406.3L921.8 407.8A393.9 393.9 0 0 1 921.9 416.5ZM921.4 399.5L970.0 397.0A442.5 442.5 0 0 0 969.3 387.2L920.9 390.8A393.9 393.9 0 0 1 921.4 399.5ZM919.7 378.4L968.1 373.2A442.5 442.5 0 0 0 966.9 363.6L918.7 369.8A393.9 393.9 0 0 1 919.7 378.4ZM917.7 362.4L965.8 355.3A442.5 442.5 0 0 0 964.2 345.4L916.3 353.6A393.9 393.9 0 0 1 917.7 362.4ZM914.9 345.9L962.7 336.8A442.5 442.5 0 0 0 960.7 327.1L913.2 337.3A393.9 393.9 0 0 1 914.9 345.9ZM911.1 328.0L958.3 316.6A442.5 442.5 0 0 0 956.0 307.3L909.0 319.7A393.9 393.9 0 0 1 911.1 328.0ZM906.2 309.7L952.9 296.1A442.5 442.5 0 0 0 950.0 286.8L903.7 301.4A393.9 393.9 0 0 1 906.2 309.7ZM899.9 290.0L945.8 274.0A442.5 442.5 0 0 0 942.5 265.0L897.0 282.0A393.9 393.9 0 0 1 899.9 290.0ZM894.5 275.4L939.7 257.6A442.5 442.5 0 0 0 935.6 247.7L890.9 266.6A393.9 393.9 0 0 1 894.5 275.4ZM887.3 258.4L931.6 238.5A442.5 442.5 0 0 0 927.3 229.2L883.4 250.1A393.9 393.9 0 0 1 887.3 258.4ZM878.9 241.0L922.2 218.9A442.5 442.5 0 0 0 918.1 211.1L875.3 234.1A393.9 393.9 0 0 1 878.9 241.0ZM870.3 224.9L912.5 200.8A442.5 442.5 0 0 0 908.0 193.1L866.3 218.1A393.9 393.9 0 0 1 870.3 224.9ZM861.9 210.9L903.0 185.1A442.5 442.5 0 0 0 897.0 175.6L856.4 202.5A393.9 393.9 0 0 1 861.9 210.9ZM850.0 193.0L889.7 165.0A442.5 442.5 0 0 0 883.4 156.3L844.4 185.2A393.9 393.9 0 0 1 850.0 193.0ZM841.3 181.2L880.0 151.8A442.5 442.5 0 0 0 873.8 143.9L835.9 174.2A393.9 393.9 0 0 1 841.3 181.2ZM829.7 166.6L866.9 135.4A442.5 442.5 0 0 0 859.5 126.8L823.1 159.0A393.9 393.9 0 0 1 829.7 166.6ZM817.8 153.1L853.5 120.2A442.5 442.5 0 0 0 847.2 113.5L812.2 147.2A393.9 393.9 0 0 1 817.8 153.1ZM803.9 138.8L837.9 104.1A442.5 442.5 0 0 0 830.2 96.7L797.0 132.2A393.9 393.9 0 0 1 803.9 138.8ZM790.8 126.5L823.2 90.3A442.5 442.5 0 0 0 815.6 83.6L784.0 120.5A393.9 393.9 0 0 1 790.8 126.5ZM775.7 113.7L806.2 75.9A442.5 442.5 0 0 0 798.3 69.6L768.6 108.1A393.9 393.9 0 0 1 775.7 113.7ZM761.4 102.6L790.1 63.4A442.5 442.5 0 0 0 782.1 57.7L754.2 97.5A393.9 393.9 0 0 1 761.4 102.6ZM748.2 93.3L775.3 53.0A442.5 442.5 0 0 0 767.2 47.6L740.9 88.5A393.9 393.9 0 0 1 748.2 93.3ZM731.9 82.9L757.1 41.3A442.5 442.5 0 0 0 747.5 35.7L723.4 77.9A393.9 393.9 0 0 1 731.9 82.9ZM717.9 74.9L741.4 32.3A442.5 442.5 0 0 0 732.3 27.4L709.9 70.5A393.9 393.9 0 0 1 717.9 74.9ZM699.9 65.5L721.1 21.8A442.5 442.5 0 0 0 711.8 17.4L691.7 61.6A393.9 393.9 0 0 1 699.9 65.5ZM683.6 58.1L702.8 13.4A442.5 442.5 0 0 0 693.0 9.4L674.9 54.5A393.9 393.9 0 0 1 683.6 58.1ZM666.5 51.2L683.6 5.7A442.5 442.5 0 0 0 674.4 2.4L658.3 48.2A393.9 393.9 0 0 1 666.5 51.2ZM651.0 45.7L666.2 -0.4A442.5 442.5 0 0 0 657.9 -3.0L643.7 43.4A393.9 393.9 0 0 1 651.0 45.7ZM631.1 39.8L643.9 -7.1A442.5 442.5 0 0 0 633.0 -9.9L621.5 37.3A393.9 393.9 0 0 1 631.1 39.8ZM615.6 35.9L626.4 -11.5A442.5 442.5 0 0 0 614.9 -13.9L605.4 33.7A393.9 393.9 0 0 1 615.6 35.9ZM595.6 31.9L603.9 -16.0A442.5 442.5 0 0 0 594.9 -17.5L587.6 30.6A393.9 393.9 0 0 1 595.6 31.9ZM577.9 29.2L584.0 -19.0A442.5 442.5 0 0 0 574.1 -20.1L569.0 28.2A393.9 393.9 0 0 1 577.9 29.2ZM562.0 27.5L566.2 -20.9A442.5 442.5 0 0 0 556.8 -21.6L553.6 26.9A393.9 393.9 0 0 1 562.0 27.5ZM543.4 26.4L545.3 -22.2A442.5 442.5 0 0 0 536.6 -22.5L535.6 26.1A393.9 393.9 0 0 1 543.4 26.4ZM526.8 26.1L526.7 -22.5A442.5 442.5 0 0 0 517.7 -22.4L518.8 26.2A393.9 393.9 0 0 1 526.8 26.1ZM970.4 432.0L1002.8 432.8A474.9 474.9 0 0 0 1002.9 423.8L970.5 423.5A442.5 442.5 0 0 1 970.4 432.0ZM970.5 416.5L1002.9 416.2A474.9 474.9 0 0 0 1002.8 407.9L970.4 408.7A442.5 442.5 0 0 1 970.5 416.5ZM970.2 401.6L1002.5 400.2A474.9 474.9 0 0 0 1002.1 392.2L969.8 394.1A442.5 442.5 0 0 1 970.2 401.6ZM968.9 382.1L1001.2 379.3A474.9 474.9 0 0 0 1000.4 370.8L968.2 374.2A442.5 442.5 0 0 1 968.9 382.1ZM967.3 366.9L999.5 363.0A474.9 474.9 0 0 0 998.5 354.9L966.4 359.3A442.5 442.5 0 0 1 967.3 366.9ZM964.8 348.8L996.8 343.6A474.9 474.9 0 0 0 995.1 333.9L963.2 339.8A442.5 442.5 0 0 1 964.8 348.8ZM962.0 333.2L993.7 326.8A474.9 474.9 0 0 0 992.1 319.2L960.5 326.1A442.5 442.5 0 0 1 962.0 333.2ZM958.9 319.3L990.5 311.9A474.9 474.9 0 0 0 988.1 302.3L956.7 310.3A442.5 442.5 0 0 1 958.9 319.3ZM955.0 303.6L986.2 295.1A474.9 474.9 0 0 0 984.0 287.2L952.9 296.3A442.5 442.5 0 0 1 955.0 303.6ZM950.4 288.0L981.3 278.3A474.9 474.9 0 0 0 978.6 269.7L947.8 280.0A442.5 442.5 0 0 1 950.4 288.0ZM944.6 270.8L975.1 259.8A474.9 474.9 0 0 0 972.1 251.5L941.8 263.0A442.5 442.5 0 0 1 944.6 270.8ZM938.6 255.0L968.7 242.9A474.9 474.9 0 0 0 964.8 233.5L935.0 246.2A442.5 442.5 0 0 1 938.6 255.0ZM932.1 239.6L961.7 226.4A474.9 474.9 0 0 0 957.6 217.4L928.3 231.2A442.5 442.5 0 0 1 932.1 239.6ZM926.0 226.4L955.1 212.3A474.9 474.9 0 0 0 951.4 204.8L922.5 219.5A442.5 442.5 0 0 1 926.0 226.4ZM916.7 208.4L945.2 192.9A474.9 474.9 0 0 0 941.0 185.5L912.8 201.5A442.5 442.5 0 0 1 916.7 208.4ZM908.8 194.5L936.7 178.0A474.9 474.9 0 0 0 932.7 171.4L905.1 188.4A442.5 442.5 0 0 1 908.8 194.5ZM900.8 181.4L928.0 164.0A474.9 474.9 0 0 0 922.5 155.6L895.6 173.6A442.5 442.5 0 0 1 900.8 181.4ZM891.8 168.0L918.4 149.5A474.9 474.9 0 0 0 912.8 141.6L886.6 160.6A442.5 442.5 0 0 1 891.8 168.0ZM880.9 152.9L906.7 133.4A474.9 474.9 0 0 0 900.8 125.7L875.4 145.8A442.5 442.5 0 0 1 880.9 152.9ZM872.1 141.7L897.3 121.3A474.9 474.9 0 0 0 892.5 115.5L867.6 136.3A442.5 442.5 0 0 1 872.1 141.7ZM861.1 128.7L885.5 107.4A474.9 474.9 0 0 0 879.8 100.9L855.8 122.7A442.5 442.5 0 0 1 861.1 128.7ZM851.0 117.5L874.7 95.3A474.9 474.9 0 0 0 868.8 89.2L845.6 111.8A442.5 442.5 0 0 1 851.0 117.5ZM839.7 105.8L862.5 82.8A474.9 474.9 0 0 0 855.7 76.3L833.4 99.7A442.5 442.5 0 0 1 839.7 105.8ZM827.1 93.8L849.0 69.9A474.9 474.9 0 0 0 842.8 64.4L821.3 88.6A442.5 442.5 0 0 1 827.1 93.8ZM814.6 82.8L835.6 58.1A474.9 474.9 0 0 0 829.3 52.8L808.7 77.9A442.5 442.5 0 0 1 814.6 82.8ZM801.1 71.8L821.1 46.3A474.9 474.9 0 0 0 814.3 41.1L794.8 66.9A442.5 442.5 0 0 1 801.1 71.8ZM789.3 62.8L808.5 36.7A474.9 474.9 0 0 0 800.8 31.2L782.2 57.7A442.5 442.5 0 0 1 789.3 62.8ZM775.9 53.4L794.1 26.6A474.9 474.9 0 0 0 787.2 22.0L769.5 49.1A442.5 442.5 0 0 1 775.9 53.4ZM758.9 42.5L775.8 14.8A474.9 474.9 0 0 0 767.7 10.0L751.4 38.0A442.5 442.5 0 0 1 758.9 42.5ZM746.8 35.3L762.8 7.1A474.9 474.9 0 0 0 754.6 2.6L739.2 31.1A442.5 442.5 0 0 1 746.8 35.3ZM730.6 26.5L745.4 -2.3A474.9 474.9 0 0 0 738.4 -5.8L724.1 23.3A442.5 442.5 0 0 1 730.6 26.5ZM715.8 19.3L729.5 -10.1A474.9 474.9 0 0 0 722.6 -13.3L709.3 16.3A442.5 442.5 0 0 1 715.8 19.3ZM703.0 13.5L715.9 -16.2A474.9 474.9 0 0 0 706.9 -20.0L694.7 10.1A442.5 442.5 0 0 1 703.0 13.5ZM686.4 6.8L698.0 -23.5A474.9 474.9 0 0 0 690.6 -26.3L679.5 4.2A442.5 442.5 0 0 1 686.4 6.8ZM670.7 1.1L681.1 -29.6A474.9 474.9 0 0 0 671.6 -32.7L661.8 -1.8A442.5 442.5 0 0 1 670.7 1.1ZM655.7 -3.7L665.0 -34.8A474.9 474.9 0 0 0 655.2 -37.6L646.5 -6.4A442.5 442.5 0 0 1 655.7 -3.7ZM637.9 -8.7L645.9 -40.1A474.9 474.9 0 0 0 638.6 -41.9L631.1 -10.4A442.5 442.5 0 0 1 637.9 -8.7ZM624.5 -11.9L631.5 -43.5A474.9 474.9 0 0 0 622.9 -45.4L616.5 -13.6A442.5 442.5 0 0 1 624.5 -11.9ZM607.0 -15.4L612.8 -47.3A474.9 474.9 0 0 0 604.5 -48.7L599.3 -16.8A442.5 442.5 0 0 1 607.0 -15.4ZM591.8 -17.9L596.5 -50.0A474.9 474.9 0 0 0 588.4 -51.1L584.3 -19.0A442.5 442.5 0 0 1 591.8 -17.9ZM576.0 -19.9L579.5 -52.1A474.9 474.9 0 0 0 570.9 -53.0L568.0 -20.7A442.5 442.5 0 0 1 576.0 -19.9ZM556.5 -21.6L558.6 -54.0A474.9 474.9 0 0 0 550.6 -54.4L549.1 -22.0A442.5 442.5 0 0 1 556.5 -21.6ZM539.3 -22.4L540.1 -54.8A474.9 474.9 0 0 0 530.0 -54.9L529.8 -22.5A442.5 442.5 0 0 1 539.3 -22.4ZM525.1 -22.5L524.9 -54.9A474.9 474.9 0 0 0 516.6 -54.8L517.4 -22.4A442.5 442.5 0 0 1 525.1 -22.5ZM1002.8 430.9L1051.4 432.0A523.5 523.5 0 0 0 1051.5 422.2L1002.9 422.0A474.9 474.9 0 0 1 1002.8 430.9ZM1002.9 412.6L1051.5 411.9A523.5 523.5 0 0 0 1051.2 402.2L1002.7 403.9A474.9 474.9 0 0 1 1002.9 412.6ZM1002.2 393.4L1050.7 390.7A523.5 523.5 0 0 0 1050.0 379.9L1001.6 383.7A474.9 474.9 0 0 1 1002.2 393.4ZM1001.2 379.0L1049.6 374.8A523.5 523.5 0 0 0 1048.6 364.1L1000.2 369.3A474.9 474.9 0 0 1 1001.2 379.0ZM999.4 361.7L1047.6 355.7A523.5 523.5 0 0 0 1046.1 344.9L998.0 351.9A474.9 474.9 0 0 1 999.4 361.7ZM997.1 345.6L1045.1 337.9A523.5 523.5 0 0 0 1043.6 329.1L995.7 337.5A474.9 474.9 0 0 1 997.1 345.6ZM993.3 324.9L1040.9 315.2A523.5 523.5 0 0 0 1038.8 305.3L991.4 316.0A474.9 474.9 0 0 1 993.3 324.9ZM989.8 308.9L1037.0 297.5A523.5 523.5 0 0 0 1034.9 289.1L987.9 301.3A474.9 474.9 0 0 1 989.8 308.9ZM986.1 294.4L1032.9 281.6A523.5 523.5 0 0 0 1029.9 271.0L983.3 284.9A474.9 474.9 0 0 1 986.1 294.4ZM981.2 278.0L1027.6 263.5A523.5 523.5 0 0 0 1025.0 255.3L978.8 270.6A474.9 474.9 0 0 1 981.2 278.0ZM975.2 260.1L1021.0 243.8A523.5 523.5 0 0 0 1017.3 233.9L971.9 251.2A474.9 474.9 0 0 1 975.2 260.1ZM968.7 242.9L1013.8 224.8A523.5 523.5 0 0 0 1009.6 214.6L964.9 233.6A474.9 474.9 0 0 1 968.7 242.9ZM961.8 226.6L1006.2 206.8A523.5 523.5 0 0 0 1002.3 198.3L958.2 218.8A474.9 474.9 0 0 1 961.8 226.6ZM954.2 210.4L997.8 188.9A523.5 523.5 0 0 0 993.8 180.9L950.5 203.1A474.9 474.9 0 0 1 954.2 210.4ZM947.9 198.1L990.9 175.4A523.5 523.5 0 0 0 985.7 165.8L943.2 189.4A474.9 474.9 0 0 1 947.9 198.1ZM937.8 179.9L979.7 155.4A523.5 523.5 0 0 0 974.6 146.7L933.1 172.1A474.9 474.9 0 0 1 937.8 179.9ZM929.7 166.5L970.8 140.6A523.5 523.5 0 0 0 966.1 133.3L925.4 159.9A474.9 474.9 0 0 1 929.7 166.5ZM920.7 152.9L960.9 125.6A523.5 523.5 0 0 0 956.3 118.8L916.5 146.8A474.9 474.9 0 0 1 920.7 152.9ZM911.0 139.2L950.2 110.5A523.5 523.5 0 0 0 944.6 102.8L905.9 132.3A474.9 474.9 0 0 1 911.0 139.2ZM898.4 122.8L936.4 92.4A523.5 523.5 0 0 0 929.5 83.9L892.2 115.1A474.9 474.9 0 0 1 898.4 122.8ZM888.4 110.6L925.3 79.0A523.5 523.5 0 0 0 918.6 71.4L882.4 103.8A474.9 474.9 0 0 1 888.4 110.6ZM877.0 97.8L912.7 64.9A523.5 523.5 0 0 0 905.6 57.3L870.5 91.0A474.9 474.9 0 0 1 877.0 97.8ZM864.3 84.6L898.7 50.3A523.5 523.5 0 0 0 890.8 42.5L857.1 77.6A474.9 474.9 0 0 1 864.3 84.6ZM851.4 72.1L884.5 36.5A523.5 523.5 0 0 0 877.0 29.7L844.6 66.0A474.9 474.9 0 0 1 851.4 72.1ZM839.3 61.3L871.1 24.6A523.5 523.5 0 0 0 864.6 19.0L833.4 56.2A474.9 474.9 0 0 1 839.3 61.3ZM826.3 50.4L856.9 12.6A523.5 523.5 0 0 0 849.5 6.8L819.7 45.1A474.9 474.9 0 0 1 826.3 50.4ZM813.7 40.6L842.9 1.8A523.5 523.5 0 0 0 836.0 -3.4L807.4 35.9A474.9 474.9 0 0 1 813.7 40.6ZM798.8 29.8L826.5 -10.1A523.5 523.5 0 0 0 819.4 -15.0L792.3 25.4A474.9 474.9 0 0 1 798.8 29.8ZM783.6 19.7L809.7 -21.3A523.5 523.5 0 0 0 802.1 -26.1L776.6 15.3A474.9 474.9 0 0 1 783.6 19.7ZM767.5 9.9L792.0 -32.1A523.5 523.5 0 0 0 783.2 -37.1L759.5 5.3A474.9 474.9 0 0 1 767.5 9.9ZM754.1 2.3L777.2 -40.4A523.5 523.5 0 0 0 768.9 -44.8L746.6 -1.7A474.9 474.9 0 0 1 754.1 2.3ZM739.1 -5.4L760.8 -49.0A523.5 523.5 0 0 0 753.0 -52.7L732.1 -8.9A474.9 474.9 0 0 1 739.1 -5.4ZM721.3 -13.8L741.1 -58.2A523.5 523.5 0 0 0 731.1 -62.5L712.3 -17.7A474.9 474.9 0 0 1 721.3 -13.8ZM706.5 -20.1L724.8 -65.2A523.5 523.5 0 0 0 715.5 -68.8L698.1 -23.5A474.9 474.9 0 0 1 706.5 -20.1ZM692.3 -25.6L709.1 -71.2A523.5 523.5 0 0 0 700.0 -74.5L684.0 -28.6A474.9 474.9 0 0 1 692.3 -25.6ZM675.8 -31.4L691.0 -77.5A523.5 523.5 0 0 0 682.4 -80.3L668.0 -33.8A474.9 474.9 0 0 1 675.8 -31.4ZM657.6 -36.9L670.8 -83.7A523.5 523.5 0 0 0 662.6 -86.0L650.1 -39.0A474.9 474.9 0 0 1 657.6 -36.9ZM642.2 -41.0L653.9 -88.2A523.5 523.5 0 0 0 643.9 -90.6L633.2 -43.2A474.9 474.9 0 0 1 642.2 -41.0ZM624.3 -45.1L634.1 -92.7A523.5 523.5 0 0 0 623.6 -94.7L614.7 -47.0A474.9 474.9 0 0 1 624.3 -45.1ZM608.6 -48.1L616.8 -96.0A523.5 523.5 0 0 0 608.6 -97.3L601.1 -49.3A474.9 474.9 0 0 1 608.6 -48.1ZM588.2 -51.1L594.4 -99.3A523.5 523.5 0 0 0 584.5 -100.5L579.3 -52.2A474.9 474.9 0 0 1 588.2 -51.1ZM572.0 -52.9L576.5 -101.3A523.5 523.5 0 0 0 566.8 -102.1L563.2 -53.6A474.9 474.9 0 0 1 572.0 -52.9ZM556.9 -54.1L559.9 -102.6A523.5 523.5 0 0 0 548.9 -103.1L547.0 -54.6A474.9 474.9 0 0 1 556.9 -54.1ZM538.2 -54.8L539.2 -103.4A523.5 523.5 0 0 0 528.4 -103.5L528.4 -54.9A474.9 474.9 0 0 1 538.2 -54.8ZM522.3 -54.9L521.7 -103.5A523.5 523.5 0 0 0 512.8 -103.3L514.2 -54.8A474.9 474.9 0 0 1 522.3 -54.9ZM1051.5 428.1L1100.1 428.9A572.1 572.1 0 0 0 1100.1 419.7L1051.5 419.7A523.5 523.5 0 0 1 1051.5 428.1ZM1051.5 410.9L1100.1 410.0A572.1 572.1 0 0 0 1099.8 399.9L1051.2 401.6A523.5 523.5 0 0 1 1051.5 410.9ZM1050.7 390.3L1099.2 387.6A572.1 572.1 0 0 0 1098.6 377.5L1050.1 381.1A523.5 523.5 0 0 1 1050.7 390.3ZM1049.5 373.6L1097.9 369.3A572.1 572.1 0 0 0 1097.1 360.8L1048.7 365.9A523.5 523.5 0 0 1 1049.5 373.6ZM1047.5 355.3L1095.8 349.3A572.1 572.1 0 0 0 1094.5 339.6L1046.4 346.4A523.5 523.5 0 0 1 1047.5 355.3ZM1045.0 337.6L1093.0 329.9A572.1 572.1 0 0 0 1091.1 318.6L1043.3 327.2A523.5 523.5 0 0 1 1045.0 337.6ZM1041.7 319.1L1089.4 309.7A572.1 572.1 0 0 0 1087.2 299.1L1039.7 309.4A523.5 523.5 0 0 1 1041.7 319.1ZM1038.0 301.5L1085.3 290.5A572.1 572.1 0 0 0 1082.8 280.3L1035.7 292.2A523.5 523.5 0 0 1 1038.0 301.5ZM1033.4 283.3L1080.3 270.6A572.1 572.1 0 0 0 1078.0 262.5L1031.3 275.9A523.5 523.5 0 0 1 1033.4 283.3ZM1029.0 268.1L1075.5 254.0A572.1 572.1 0 0 0 1072.5 244.4L1026.3 259.3A523.5 523.5 0 0 1 1029.0 268.1ZM1023.0 249.5L1069.0 233.7A572.1 572.1 0 0 0 1065.6 224.1L1019.9 240.8A523.5 523.5 0 0 1 1023.0 249.5ZM1017.3 233.6L1062.7 216.3A572.1 572.1 0 0 0 1058.9 206.6L1013.8 224.7A523.5 523.5 0 0 1 1017.3 233.6ZM1009.4 214.2L1054.1 195.1A572.1 572.1 0 0 0 1049.6 184.9L1005.3 204.9A523.5 523.5 0 0 1 1009.4 214.2ZM1001.7 197.1L1045.7 176.4A572.1 572.1 0 0 0 1041.3 167.4L997.7 188.8A523.5 523.5 0 0 1 1001.7 197.1ZM993.7 180.8L1036.9 158.6A572.1 572.1 0 0 0 1032.9 150.9L990.0 173.8A523.5 523.5 0 0 1 993.7 180.8ZM986.4 167.1L1029.0 143.6A572.1 572.1 0 0 0 1024.2 135.2L982.1 159.4A523.5 523.5 0 0 1 986.4 167.1ZM975.8 148.7L1017.3 123.5A572.1 572.1 0 0 0 1011.3 113.7L970.2 139.7A523.5 523.5 0 0 1 975.8 148.7ZM968.0 136.3L1008.9 109.9A572.1 572.1 0 0 0 1004.1 102.6L963.6 129.6A523.5 523.5 0 0 1 968.0 136.3ZM957.8 121.1L997.7 93.4A572.1 572.1 0 0 0 991.5 84.5L952.1 113.0A523.5 523.5 0 0 1 957.8 121.1ZM946.2 105.0L985.0 75.8A572.1 572.1 0 0 0 979.3 68.3L941.0 98.2A523.5 523.5 0 0 1 946.2 105.0ZM935.0 90.7L972.8 60.1A572.1 572.1 0 0 0 965.6 51.4L928.4 82.7A523.5 523.5 0 0 1 935.0 90.7ZM922.6 75.9L959.2 44.0A572.1 572.1 0 0 0 952.7 36.6L916.6 69.2A523.5 523.5 0 0 1 922.6 75.9ZM909.7 61.7L945.1 28.4A572.1 572.1 0 0 0 939.1 22.1L904.2 55.9A523.5 523.5 0 0 1 909.7 61.7ZM897.3 48.9L931.5 14.4A572.1 572.1 0 0 0 923.7 6.7L890.0 41.8A523.5 523.5 0 0 1 897.3 48.9ZM883.8 35.9L916.9 0.3A572.1 572.1 0 0 0 909.8 -6.2L877.3 30.0A523.5 523.5 0 0 1 883.8 35.9ZM871.9 25.2L903.8 -11.4A572.1 572.1 0 0 0 896.5 -17.6L865.2 19.5A523.5 523.5 0 0 1 871.9 25.2ZM858.5 13.9L889.1 -23.8A572.1 572.1 0 0 0 881.8 -29.7L851.7 8.5A523.5 523.5 0 0 1 858.5 13.9ZM843.7 2.3L873.0 -36.5A572.1 572.1 0 0 0 865.4 -42.1L836.7 -2.8A523.5 523.5 0 0 1 843.7 2.3ZM826.4 -10.2L854.0 -50.2A572.1 572.1 0 0 0 845.1 -56.3L818.1 -15.8A523.5 523.5 0 0 1 826.4 -10.2ZM812.8 -19.3L839.3 -60.1A572.1 572.1 0 0 0 831.3 -65.1L805.5 -23.9A523.5 523.5 0 0 1 812.8 -19.3ZM798.7 -28.1L823.8 -69.7A572.1 572.1 0 0 0 815.5 -74.7L791.1 -32.7A523.5 523.5 0 0 1 798.7 -28.1ZM782.7 -37.4L806.4 -79.9A572.1 572.1 0 0 0 797.8 -84.5L774.9 -41.7A523.5 523.5 0 0 1 782.7 -37.4ZM765.3 -46.7L787.3 -90.0A572.1 572.1 0 0 0 778.3 -94.5L757.0 -50.8A523.5 523.5 0 0 1 765.3 -46.7ZM747.4 -55.3L767.8 -99.5A572.1 572.1 0 0 0 757.8 -104.0L738.3 -59.5A523.5 523.5 0 0 1 747.4 -55.3ZM730.6 -62.8L749.4 -107.6A572.1 572.1 0 0 0 739.4 -111.7L721.4 -66.5A523.5 523.5 0 0 1 730.6 -62.8ZM715.7 -68.8L733.1 -114.1A572.1 572.1 0 0 0 725.0 -117.2L708.3 -71.5A523.5 523.5 0 0 1 715.7 -68.8ZM696.4 -75.7L712.0 -121.7A572.1 572.1 0 0 0 701.1 -125.3L686.4 -79.0A523.5 523.5 0 0 1 696.4 -75.7ZM680.2 -80.9L694.3 -127.4A572.1 572.1 0 0 0 685.8 -130.0L672.4 -83.3A523.5 523.5 0 0 1 680.2 -80.9ZM661.0 -86.4L673.3 -133.4A572.1 572.1 0 0 0 662.6 -136.1L651.2 -88.9A523.5 523.5 0 0 1 661.0 -86.4ZM645.6 -90.2L656.5 -137.5A572.1 572.1 0 0 0 646.6 -139.7L636.5 -92.2A523.5 523.5 0 0 1 645.6 -90.2ZM625.5 -94.4L634.5 -142.1A572.1 572.1 0 0 0 625.5 -143.8L617.2 -95.9A523.5 523.5 0 0 1 625.5 -94.4ZM611.6 -96.8L619.4 -144.8A572.1 572.1 0 0 0 610.5 -146.2L603.5 -98.1A523.5 523.5 0 0 1 611.6 -96.8ZM591.4 -99.7L597.3 -147.9A572.1 572.1 0 0 0 587.2 -149.1L582.1 -100.7A523.5 523.5 0 0 1 591.4 -99.7ZM572.1 -101.7L576.2 -150.1A572.1 572.1 0 0 0 564.7 -151.0L561.6 -102.5A523.5 523.5 0 0 1 572.1 -101.7ZM553.1 -102.9L555.4 -151.5A572.1 572.1 0 0 0 544.5 -151.9L543.1 -103.3A523.5 523.5 0 0 1 553.1 -102.9ZM537.1 -103.5L537.9 -152.1A572.1 572.1 0 0 0 529.3 -152.1L529.2 -103.5A523.5 523.5 0 0 1 537.1 -103.5ZM519.2 -103.5L518.3 -152.1A572.1 572.1 0 0 0 508.7 -151.8L510.4 -103.3A523.5 523.5 0 0 1 519.2 -103.5Z" fill="#fff" fill-opacity="0.17"/><path d="M759.9 420.4L792.3 420.5A264.3 264.3 0 0 0 792.2 410.7L759.8 411.8A231.9 231.9 0 0 1 759.9 420.4ZM759.2 401.0L791.5 398.4A264.3 264.3 0 0 0 790.5 389.0L758.3 392.8A231.9 231.9 0 0 1 759.2 401.0ZM757.5 386.1L789.5 381.3A264.3 264.3 0 0 0 787.9 371.9L756.1 377.8A231.9 231.9 0 0 1 757.5 386.1ZM754.4 369.5L786.0 362.5A264.3 264.3 0 0 0 783.6 352.5L752.3 360.8A231.9 231.9 0 0 1 754.4 369.5ZM750.9 355.8L782.0 346.8A264.3 264.3 0 0 0 779.4 338.1L748.5 348.2A231.9 231.9 0 0 1 750.9 355.8ZM744.6 337.0L774.9 325.5A264.3 264.3 0 0 0 771.2 316.3L741.4 329.0A231.9 231.9 0 0 1 744.6 337.0ZM739.4 324.5L768.9 311.1A264.3 264.3 0 0 0 764.5 301.8L735.5 316.3A231.9 231.9 0 0 1 739.4 324.5ZM731.6 308.8L760.0 293.3A264.3 264.3 0 0 0 754.9 284.3L727.1 301.0A231.9 231.9 0 0 1 731.6 308.8ZM722.4 293.4L749.5 275.8A264.3 264.3 0 0 0 744.8 268.7L718.2 287.3A231.9 231.9 0 0 1 722.4 293.4ZM712.5 279.4L738.3 259.8A264.3 264.3 0 0 0 733.0 253.1L707.8 273.5A231.9 231.9 0 0 1 712.5 279.4ZM703.3 268.1L727.8 246.9A264.3 264.3 0 0 0 722.4 240.8L698.5 262.8A231.9 231.9 0 0 1 703.3 268.1ZM690.5 254.5L713.2 231.3A264.3 264.3 0 0 0 706.7 225.2L684.8 249.0A231.9 231.9 0 0 1 690.5 254.5ZM679.4 244.3L700.5 219.7A264.3 264.3 0 0 0 694.4 214.6L674.0 239.8A231.9 231.9 0 0 1 679.4 244.3ZM667.0 234.3L686.4 208.4A264.3 264.3 0 0 0 678.6 202.7L660.1 229.4A231.9 231.9 0 0 1 667.0 234.3ZM651.4 223.6L668.6 196.2A264.3 264.3 0 0 0 661.8 192.0L645.4 219.9A231.9 231.9 0 0 1 651.4 223.6ZM637.7 215.6L653.0 187.1A264.3 264.3 0 0 0 645.7 183.3L631.3 212.3A231.9 231.9 0 0 1 637.7 215.6ZM622.6 208.2L635.8 178.6A264.3 264.3 0 0 0 628.4 175.5L616.1 205.4A231.9 231.9 0 0 1 622.6 208.2ZM607.0 201.9L618.1 171.5A264.3 264.3 0 0 0 609.3 168.5L599.3 199.3A231.9 231.9 0 0 1 607.0 201.9ZM593.9 197.6L603.1 166.5A264.3 264.3 0 0 0 592.8 163.7L584.9 195.1A231.9 231.9 0 0 1 593.9 197.6ZM576.0 193.1L582.7 161.4A264.3 264.3 0 0 0 573.9 159.7L568.3 191.6A231.9 231.9 0 0 1 576.0 193.1ZM560.4 190.3L564.9 158.2A264.3 264.3 0 0 0 555.8 157.1L552.4 189.3A231.9 231.9 0 0 1 560.4 190.3ZM543.5 188.6L545.7 156.2A264.3 264.3 0 0 0 536.7 155.8L535.6 188.2A231.9 231.9 0 0 1 543.5 188.6ZM530.0 188.1L530.3 155.7A264.3 264.3 0 0 0 519.9 155.8L520.9 188.2A231.9 231.9 0 0 1 530.0 188.1ZM510.5 188.7L508.0 156.4A264.3 264.3 0 0 0 497.9 157.4L501.6 189.6A231.9 231.9 0 0 1 510.5 188.7ZM792.3 423.8L824.7 424.2A296.7 296.7 0 0 0 824.7 412.8L792.3 413.6A264.3 264.3 0 0 1 792.3 423.8ZM791.9 404.4L824.2 402.5A296.7 296.7 0 0 0 823.4 391.5L791.1 394.6A264.3 264.3 0 0 1 791.9 404.4ZM789.8 383.4L821.9 378.9A296.7 296.7 0 0 0 820.4 369.3L788.5 374.9A264.3 264.3 0 0 1 789.8 383.4ZM787.1 367.7L818.9 361.3A296.7 296.7 0 0 0 816.5 350.5L785.0 358.1A264.3 264.3 0 0 1 787.1 367.7ZM782.2 347.4L813.3 338.5A296.7 296.7 0 0 0 809.8 326.9L779.0 337.0A264.3 264.3 0 0 1 782.2 347.4ZM777.0 331.2L807.5 320.3A296.7 296.7 0 0 0 804.0 310.9L773.8 322.8A264.3 264.3 0 0 1 777.0 331.2ZM770.5 314.9L800.3 302.0A296.7 296.7 0 0 0 795.5 291.4L766.3 305.5A264.3 264.3 0 0 1 770.5 314.9ZM760.4 294.1L788.9 278.7A296.7 296.7 0 0 0 784.2 270.2L756.2 286.6A264.3 264.3 0 0 1 760.4 294.1ZM752.9 281.1L780.5 264.0A296.7 296.7 0 0 0 773.9 253.9L747.1 272.1A264.3 264.3 0 0 1 752.9 281.1ZM741.6 264.3L767.8 245.2A296.7 296.7 0 0 0 761.3 236.6L735.8 256.6A264.3 264.3 0 0 1 741.6 264.3ZM729.0 248.3L753.6 227.3A296.7 296.7 0 0 0 746.8 219.6L722.9 241.5A264.3 264.3 0 0 1 729.0 248.3ZM715.7 233.9L738.7 211.0A296.7 296.7 0 0 0 731.1 203.7L709.0 227.3A264.3 264.3 0 0 1 715.7 233.9ZM703.5 222.4L725.1 198.1A296.7 296.7 0 0 0 716.6 190.9L696.0 215.9A264.3 264.3 0 0 1 703.5 222.4ZM687.8 209.4L707.4 183.6A296.7 296.7 0 0 0 699.4 177.8L680.7 204.2A264.3 264.3 0 0 1 687.8 209.4ZM672.0 198.3L689.7 171.2A296.7 296.7 0 0 0 680.0 165.1L663.4 192.9A264.3 264.3 0 0 1 672.0 198.3ZM654.7 188.0L670.3 159.6A296.7 296.7 0 0 0 660.8 154.6L646.3 183.6A264.3 264.3 0 0 1 654.7 188.0ZM640.4 180.8L654.2 151.4A296.7 296.7 0 0 0 643.6 146.7L631.0 176.5A264.3 264.3 0 0 1 640.4 180.8ZM622.1 173.0L633.6 142.7A296.7 296.7 0 0 0 622.7 138.8L612.4 169.5A264.3 264.3 0 0 1 622.1 173.0ZM602.8 166.4L612.0 135.4A296.7 296.7 0 0 0 603.2 132.9L595.0 164.3A264.3 264.3 0 0 1 602.8 166.4ZM583.6 161.6L590.4 129.9A296.7 296.7 0 0 0 581.0 128.0L575.2 159.9A264.3 264.3 0 0 1 583.6 161.6ZM568.3 158.7L573.3 126.7A296.7 296.7 0 0 0 563.7 125.4L559.8 157.6A264.3 264.3 0 0 1 568.3 158.7ZM549.8 156.5L552.4 124.3A296.7 296.7 0 0 0 541.0 123.5L539.6 155.9A264.3 264.3 0 0 1 549.8 156.5ZM532.3 155.7L532.8 123.3A296.7 296.7 0 0 0 521.8 123.3L522.5 155.7A264.3 264.3 0 0 1 532.3 155.7ZM512.1 156.1L510.2 123.8A296.7 296.7 0 0 0 498.5 124.7L501.7 157.0A264.3 264.3 0 0 1 512.1 156.1ZM824.7 418.9L857.1 418.8A329.1 329.1 0 0 0 856.9 406.7L824.5 408.0A296.7 296.7 0 0 1 824.7 418.9ZM823.8 396.0L856.1 393.4A329.1 329.1 0 0 0 855.0 382.7L822.8 386.3A296.7 296.7 0 0 1 823.8 396.0ZM821.8 378.5L853.9 374.0A329.1 329.1 0 0 0 852.2 362.9L820.2 368.5A296.7 296.7 0 0 1 821.8 378.5ZM818.2 358.2L849.9 351.5A329.1 329.1 0 0 0 847.5 340.8L816.0 348.6A296.7 296.7 0 0 1 818.2 358.2ZM813.5 339.1L844.7 330.3A329.1 329.1 0 0 0 841.5 319.8L810.7 329.7A296.7 296.7 0 0 1 813.5 339.1ZM808.2 322.3L838.8 311.7A329.1 329.1 0 0 0 834.5 300.1L804.4 311.9A296.7 296.7 0 0 1 808.2 322.3ZM800.8 303.1L830.5 290.4A329.1 329.1 0 0 0 826.7 281.7L797.3 295.3A296.7 296.7 0 0 1 800.8 303.1ZM792.5 285.4L821.3 270.7A329.1 329.1 0 0 0 816.2 261.0L787.8 276.7A296.7 296.7 0 0 1 792.5 285.4ZM782.3 267.0L810.0 250.3A329.1 329.1 0 0 0 804.8 241.8L777.5 259.4A296.7 296.7 0 0 1 782.3 267.0ZM773.7 253.6L800.5 235.4A329.1 329.1 0 0 0 793.4 225.2L767.2 244.4A296.7 296.7 0 0 1 773.7 253.6ZM763.7 239.8L789.5 220.1A329.1 329.1 0 0 0 781.8 210.4L756.8 231.0A296.7 296.7 0 0 1 763.7 239.8ZM749.2 222.2L773.4 200.6A329.1 329.1 0 0 0 765.5 192.1L742.1 214.6A296.7 296.7 0 0 1 749.2 222.2ZM737.4 209.7L760.2 186.7A329.1 329.1 0 0 0 751.7 178.6L729.7 202.3A296.7 296.7 0 0 1 737.4 209.7ZM722.3 195.7L743.5 171.2A329.1 329.1 0 0 0 734.1 163.4L713.8 188.6A296.7 296.7 0 0 1 722.3 195.7ZM705.2 182.0L724.6 156.0A329.1 329.1 0 0 0 716.5 150.1L697.9 176.7A296.7 296.7 0 0 1 705.2 182.0ZM689.1 170.8L706.6 143.5A329.1 329.1 0 0 0 696.8 137.4L680.2 165.2A296.7 296.7 0 0 1 689.1 170.8ZM675.6 162.6L691.7 134.4A329.1 329.1 0 0 0 682.1 129.1L666.9 157.8A296.7 296.7 0 0 1 675.6 162.6ZM658.3 153.4L672.5 124.3A329.1 329.1 0 0 0 662.5 119.6L649.2 149.1A296.7 296.7 0 0 1 658.3 153.4ZM639.7 145.1L651.9 115.0A329.1 329.1 0 0 0 642.0 111.2L630.8 141.6A296.7 296.7 0 0 1 639.7 145.1ZM617.7 137.1L627.5 106.3A329.1 329.1 0 0 0 617.7 103.3L608.9 134.5A296.7 296.7 0 0 1 617.7 137.1ZM603.2 132.9L611.4 101.6A329.1 329.1 0 0 0 599.8 98.8L592.7 130.4A296.7 296.7 0 0 1 603.2 132.9ZM582.9 128.4L588.9 96.5A329.1 329.1 0 0 0 577.1 94.5L572.2 126.6A296.7 296.7 0 0 1 582.9 128.4ZM567.1 125.8L571.3 93.7A329.1 329.1 0 0 0 559.1 92.3L556.0 124.6A296.7 296.7 0 0 1 567.1 125.8ZM546.4 123.8L548.4 91.5A329.1 329.1 0 0 0 537.3 91.0L536.4 123.4A296.7 296.7 0 0 1 546.4 123.8ZM524.8 123.3L524.4 90.9A329.1 329.1 0 0 0 515.2 91.1L516.4 123.5A296.7 296.7 0 0 1 524.8 123.3ZM503.3 124.3L500.6 92.0A329.1 329.1 0 0 0 490.6 93.0L494.3 125.2A296.7 296.7 0 0 1 503.3 124.3ZM857.0 411.6L873.2 411.2A345.3 345.3 0 0 0 872.9 402.3L856.7 403.1A329.1 329.1 0 0 1 857.0 411.6ZM856.3 395.8L872.4 394.6A345.3 345.3 0 0 0 871.5 384.6L855.4 386.2A329.1 329.1 0 0 1 856.3 395.8ZM854.4 377.5L870.5 375.4A345.3 345.3 0 0 0 869.3 367.0L853.3 369.5A329.1 329.1 0 0 1 854.4 377.5ZM852.0 362.3L868.0 359.4A345.3 345.3 0 0 0 866.1 349.8L850.3 353.1A329.1 329.1 0 0 1 852.0 362.3ZM848.5 345.1L864.3 341.4A345.3 345.3 0 0 0 862.0 332.2L846.3 336.3A329.1 329.1 0 0 1 848.5 345.1ZM844.0 327.8L859.5 323.3A345.3 345.3 0 0 0 856.6 313.7L841.2 318.6A329.1 329.1 0 0 1 844.0 327.8ZM839.4 313.3L854.7 308.0A345.3 345.3 0 0 0 851.5 299.0L836.3 304.7A329.1 329.1 0 0 1 839.4 313.3ZM831.9 293.7L846.9 287.5A345.3 345.3 0 0 0 843.6 279.8L828.8 286.4A329.1 329.1 0 0 1 831.9 293.7ZM824.8 277.6L839.4 270.6A345.3 345.3 0 0 0 835.9 263.7L821.5 271.0A329.1 329.1 0 0 1 824.8 277.6ZM818.7 265.6L833.0 258.0A345.3 345.3 0 0 0 828.0 248.9L813.9 256.9A329.1 329.1 0 0 1 818.7 265.6ZM809.3 249.2L823.2 240.8A345.3 345.3 0 0 0 818.3 233.0L804.7 241.7A329.1 329.1 0 0 1 809.3 249.2ZM800.4 235.2L813.8 226.1A345.3 345.3 0 0 0 808.9 219.1L795.7 228.5A329.1 329.1 0 0 1 800.4 235.2ZM790.7 221.6L803.6 211.9A345.3 345.3 0 0 0 797.6 204.1L784.9 214.3A329.1 329.1 0 0 1 790.7 221.6ZM778.7 206.7L791.0 196.2A345.3 345.3 0 0 0 785.9 190.4L773.8 201.1A329.1 329.1 0 0 1 778.7 206.7ZM769.2 196.0L781.1 185.0A345.3 345.3 0 0 0 774.5 178.2L763.0 189.5A329.1 329.1 0 0 1 769.2 196.0ZM756.6 183.2L767.9 171.6A345.3 345.3 0 0 0 760.7 164.8L749.8 176.8A329.1 329.1 0 0 1 756.6 183.2ZM743.4 171.1L754.0 158.9A345.3 345.3 0 0 0 746.5 152.6L736.2 165.1A329.1 329.1 0 0 1 743.4 171.1ZM727.9 158.5L737.7 145.6A345.3 345.3 0 0 0 730.5 140.2L721.0 153.4A329.1 329.1 0 0 1 727.9 158.5ZM715.5 149.4L724.7 136.1A345.3 345.3 0 0 0 716.4 130.5L707.5 144.1A329.1 329.1 0 0 1 715.5 149.4ZM700.8 139.9L709.3 126.1A345.3 345.3 0 0 0 701.8 121.6L693.7 135.6A329.1 329.1 0 0 1 700.8 139.9ZM685.4 130.9L693.2 116.7A345.3 345.3 0 0 0 684.5 112.2L677.2 126.6A329.1 329.1 0 0 1 685.4 130.9ZM670.0 123.1L677.0 108.4A345.3 345.3 0 0 0 669.7 105.1L663.1 119.8A329.1 329.1 0 0 1 670.0 123.1ZM654.4 116.1L660.7 101.1A345.3 345.3 0 0 0 651.5 97.5L645.7 112.6A329.1 329.1 0 0 1 654.4 116.1ZM638.1 109.8L643.5 94.5A345.3 345.3 0 0 0 635.7 91.9L630.6 107.3A329.1 329.1 0 0 1 638.1 109.8ZM622.5 104.7L627.2 89.2A345.3 345.3 0 0 0 619.0 86.8L614.7 102.5A329.1 329.1 0 0 1 622.5 104.7ZM604.0 99.7L607.8 84.0A345.3 345.3 0 0 0 600.3 82.3L596.9 98.1A329.1 329.1 0 0 1 604.0 99.7ZM588.4 96.4L591.4 80.5A345.3 345.3 0 0 0 583.0 79.1L580.4 95.0A329.1 329.1 0 0 1 588.4 96.4ZM572.1 93.8L574.2 77.8A345.3 345.3 0 0 0 565.9 76.7L564.2 92.8A329.1 329.1 0 0 1 572.1 93.8ZM555.7 92.0L557.1 75.9A345.3 345.3 0 0 0 548.0 75.2L547.1 91.4A329.1 329.1 0 0 1 555.7 92.0ZM538.9 91.0L539.4 74.8A345.3 345.3 0 0 0 529.8 74.7L529.7 90.9A329.1 329.1 0 0 1 538.9 91.0ZM522.8 90.9L522.5 74.7A345.3 345.3 0 0 0 512.7 75.0L513.4 91.2A329.1 329.1 0 0 1 522.8 90.9ZM503.8 91.7L502.6 75.6A345.3 345.3 0 0 0 492.9 76.4L494.5 92.6A329.1 329.1 0 0 1 503.8 91.7ZM873.3 422.4L889.5 422.5A361.5 361.5 0 0 0 889.5 413.7L873.3 414.0A345.3 345.3 0 0 1 873.3 422.4ZM873.0 404.9L889.2 404.2A361.5 361.5 0 0 0 888.8 396.0L872.6 397.0A345.3 345.3 0 0 1 873.0 404.9ZM871.7 385.9L887.8 384.3A361.5 361.5 0 0 0 886.8 375.5L870.7 377.5A345.3 345.3 0 0 1 871.7 385.9ZM870.0 372.2L886.1 369.9A361.5 361.5 0 0 0 884.6 360.2L868.6 362.9A345.3 345.3 0 0 1 870.0 372.2ZM867.0 354.3L882.9 351.2A361.5 361.5 0 0 0 881.2 342.7L865.4 346.2A345.3 345.3 0 0 1 867.0 354.3ZM862.7 334.9L878.4 330.9A361.5 361.5 0 0 0 875.9 321.7L860.3 326.1A345.3 345.3 0 0 1 862.7 334.9ZM858.2 318.8L873.7 314.0A361.5 361.5 0 0 0 871.0 305.7L855.6 310.8A345.3 345.3 0 0 1 858.2 318.8ZM852.6 302.2L867.9 296.7A361.5 361.5 0 0 0 864.9 288.8L849.8 294.7A345.3 345.3 0 0 1 852.6 302.2ZM845.8 284.9L860.7 278.5A361.5 361.5 0 0 0 857.6 271.3L842.8 278.0A345.3 345.3 0 0 1 845.8 284.9ZM838.9 269.6L853.5 262.6A361.5 361.5 0 0 0 849.0 253.6L834.6 261.0A345.3 345.3 0 0 1 838.9 269.6ZM830.1 252.6L844.2 244.7A361.5 361.5 0 0 0 840.2 237.6L826.2 245.8A345.3 345.3 0 0 1 830.1 252.6ZM823.5 241.3L837.4 232.9A361.5 361.5 0 0 0 832.2 224.6L818.5 233.3A345.3 345.3 0 0 1 823.5 241.3ZM811.3 222.5L824.6 213.2A361.5 361.5 0 0 0 819.9 206.6L806.8 216.2A345.3 345.3 0 0 1 811.3 222.5ZM801.7 209.4L814.6 199.6A361.5 361.5 0 0 0 809.3 192.9L796.7 203.1A345.3 345.3 0 0 1 801.7 209.4ZM790.1 195.1L802.4 184.6A361.5 361.5 0 0 0 797.3 178.8L785.2 189.6A345.3 345.3 0 0 1 790.1 195.1ZM778.2 182.0L790.0 170.8A361.5 361.5 0 0 0 784.1 164.8L772.6 176.2A345.3 345.3 0 0 1 778.2 182.0ZM766.9 170.7L778.1 159.0A361.5 361.5 0 0 0 771.0 152.3L760.2 164.3A345.3 345.3 0 0 1 766.9 170.7ZM753.0 158.0L763.6 145.7A361.5 361.5 0 0 0 757.1 140.3L746.9 152.9A345.3 345.3 0 0 1 753.0 158.0ZM739.9 147.3L749.9 134.5A361.5 361.5 0 0 0 742.7 129.1L733.1 142.1A345.3 345.3 0 0 1 739.9 147.3ZM728.1 138.5L737.5 125.3A361.5 361.5 0 0 0 730.7 120.6L721.6 134.0A345.3 345.3 0 0 1 728.1 138.5ZM714.5 129.3L723.2 115.7A361.5 361.5 0 0 0 714.7 110.4L706.3 124.3A345.3 345.3 0 0 1 714.5 129.3ZM695.5 118.0L703.3 103.8A361.5 361.5 0 0 0 696.4 100.1L688.8 114.4A345.3 345.3 0 0 1 695.5 118.0ZM679.7 109.8L686.8 95.2A361.5 361.5 0 0 0 679.3 91.6L672.5 106.3A345.3 345.3 0 0 1 679.7 109.8ZM667.4 104.0L674.0 89.2A361.5 361.5 0 0 0 664.2 85.1L658.1 100.1A345.3 345.3 0 0 1 667.4 104.0ZM648.9 96.5L654.6 81.3A361.5 361.5 0 0 0 645.6 78.1L640.3 93.4A345.3 345.3 0 0 1 648.9 96.5ZM634.4 91.5L639.4 76.1A361.5 361.5 0 0 0 629.8 73.1L625.3 88.6A345.3 345.3 0 0 1 634.4 91.5ZM619.8 87.1L624.1 71.5A361.5 361.5 0 0 0 613.9 68.8L610.0 84.5A345.3 345.3 0 0 1 619.8 87.1ZM601.7 82.6L605.1 66.8A361.5 361.5 0 0 0 595.8 64.9L592.8 80.8A345.3 345.3 0 0 1 601.7 82.6ZM583.3 79.1L585.9 63.1A361.5 361.5 0 0 0 576.2 61.7L574.0 77.7A345.3 345.3 0 0 1 583.3 79.1ZM564.9 76.6L566.7 60.5A361.5 361.5 0 0 0 558.6 59.7L557.2 75.9A345.3 345.3 0 0 1 564.9 76.6ZM545.3 75.1L546.1 58.9A361.5 361.5 0 0 0 538.1 58.6L537.6 74.8A345.3 345.3 0 0 1 545.3 75.1ZM531.4 74.7L531.5 58.5A361.5 361.5 0 0 0 523.4 58.5L523.6 74.7A345.3 345.3 0 0 1 531.4 74.7ZM515.8 74.9L515.3 58.7A361.5 361.5 0 0 0 505.1 59.2L506.1 75.3A345.3 345.3 0 0 1 515.8 74.9ZM889.4 411.1L921.8 410.3A393.9 393.9 0 0 0 921.4 400.0L889.1 401.7A361.5 361.5 0 0 1 889.4 411.1ZM888.6 393.4L920.9 391.1A393.9 393.9 0 0 0 920.1 381.5L887.8 384.6A361.5 361.5 0 0 1 888.6 393.4ZM886.5 373.0L918.6 368.8A393.9 393.9 0 0 0 917.4 360.0L885.3 364.9A361.5 361.5 0 0 1 886.5 373.0ZM884.5 359.9L916.5 354.5A393.9 393.9 0 0 0 914.4 343.3L882.6 349.6A361.5 361.5 0 0 1 884.5 359.9ZM881.0 341.9L912.7 334.9A393.9 393.9 0 0 0 910.1 323.9L878.6 331.8A361.5 361.5 0 0 1 881.0 341.9ZM876.7 324.6L908.0 316.0A393.9 393.9 0 0 0 904.8 304.9L873.8 314.4A361.5 361.5 0 0 1 876.7 324.6ZM871.1 305.9L901.8 295.7A393.9 393.9 0 0 0 898.1 285.1L867.7 296.2A361.5 361.5 0 0 1 871.1 305.9ZM863.6 285.6L893.7 273.5A393.9 393.9 0 0 0 890.0 264.6L860.2 277.4A361.5 361.5 0 0 1 863.6 285.6ZM855.4 266.7L884.8 253.0A393.9 393.9 0 0 0 881.1 245.3L852.0 259.7A361.5 361.5 0 0 1 855.4 266.7ZM847.7 251.2L876.4 236.1A393.9 393.9 0 0 0 872.3 228.5L844.0 244.3A361.5 361.5 0 0 1 847.7 251.2ZM841.4 239.8L869.5 223.6A393.9 393.9 0 0 0 864.0 214.3L836.3 231.2A361.5 361.5 0 0 1 841.4 239.8ZM829.3 220.2L856.3 202.3A393.9 393.9 0 0 0 850.7 194.0L824.1 212.6A361.5 361.5 0 0 1 829.3 220.2ZM820.2 207.1L846.4 188.0A393.9 393.9 0 0 0 840.9 180.7L815.2 200.3A361.5 361.5 0 0 1 820.2 207.1ZM808.8 192.3L834.0 171.9A393.9 393.9 0 0 0 827.7 164.3L803.1 185.4A361.5 361.5 0 0 1 808.8 192.3ZM797.9 179.4L822.0 157.8A393.9 393.9 0 0 0 814.7 149.9L791.2 172.1A361.5 361.5 0 0 1 797.9 179.4ZM785.3 166.0L808.3 143.2A393.9 393.9 0 0 0 801.5 136.4L779.0 159.8A361.5 361.5 0 0 1 785.3 166.0ZM768.4 150.0L790.0 125.8A393.9 393.9 0 0 0 783.6 120.2L762.6 144.9A361.5 361.5 0 0 1 768.4 150.0ZM755.2 138.8L775.6 113.6A393.9 393.9 0 0 0 768.8 108.2L749.0 133.9A361.5 361.5 0 0 1 755.2 138.8ZM743.6 129.8L762.9 103.8A393.9 393.9 0 0 0 754.3 97.5L735.7 124.1A361.5 361.5 0 0 1 743.6 129.8ZM725.8 117.4L743.6 90.3A393.9 393.9 0 0 0 735.4 85.1L718.3 112.6A361.5 361.5 0 0 1 725.8 117.4ZM712.7 109.2L729.2 81.3A393.9 393.9 0 0 0 719.2 75.6L703.5 103.9A361.5 361.5 0 0 1 712.7 109.2ZM697.2 100.5L712.4 71.9A393.9 393.9 0 0 0 703.4 67.3L689.0 96.3A361.5 361.5 0 0 1 697.2 100.5ZM677.9 91.0L691.3 61.5A393.9 393.9 0 0 0 683.1 57.9L670.4 87.7A361.5 361.5 0 0 1 677.9 91.0ZM662.2 84.3L674.3 54.2A393.9 393.9 0 0 0 664.5 50.4L653.3 80.8A361.5 361.5 0 0 1 662.2 84.3ZM645.2 78.0L655.7 47.3A393.9 393.9 0 0 0 647.3 44.6L637.5 75.4A361.5 361.5 0 0 1 645.2 78.0ZM626.2 72.0L635.0 40.9A393.9 393.9 0 0 0 625.3 38.3L617.3 69.7A361.5 361.5 0 0 1 626.2 72.0ZM611.5 68.2L618.9 36.7A393.9 393.9 0 0 0 609.6 34.6L602.9 66.3A361.5 361.5 0 0 1 611.5 68.2ZM592.8 64.3L598.6 32.4A393.9 393.9 0 0 0 588.3 30.7L583.4 62.7A361.5 361.5 0 0 1 592.8 64.3ZM576.0 61.6L580.3 29.5A393.9 393.9 0 0 0 570.0 28.3L566.6 60.5A361.5 361.5 0 0 1 576.0 61.6ZM556.8 59.6L559.4 27.3A393.9 393.9 0 0 0 548.3 26.6L546.6 58.9A361.5 361.5 0 0 1 556.8 59.6ZM536.5 58.5L537.2 26.2A393.9 393.9 0 0 0 528.7 26.1L528.6 58.5A361.5 361.5 0 0 1 536.5 58.5ZM519.3 58.6L518.5 26.2A393.9 393.9 0 0 0 507.7 26.6L509.4 58.9A361.5 361.5 0 0 1 519.3 58.6ZM502.9 59.3L500.6 27.0A393.9 393.9 0 0 0 489.4 27.9L492.6 60.2A361.5 361.5 0 0 1 502.9 59.3ZM921.9 425.5L970.5 426.1A442.5 442.5 0 0 0 970.5 416.2L921.9 416.6A393.9 393.9 0 0 1 921.9 425.5ZM921.8 407.8L970.3 406.3A442.5 442.5 0 0 0 969.9 395.7L921.4 398.3A393.9 393.9 0 0 1 921.8 407.8ZM920.9 390.8L969.3 387.2A442.5 442.5 0 0 0 968.4 376.6L920.0 381.3A393.9 393.9 0 0 1 920.9 390.8ZM918.7 369.8L966.9 363.6A442.5 442.5 0 0 0 965.4 352.9L917.4 360.3A393.9 393.9 0 0 1 918.7 369.8ZM916.3 353.6L964.2 345.4A442.5 442.5 0 0 0 962.3 335.2L914.6 344.5A393.9 393.9 0 0 1 916.3 353.6ZM913.2 337.3L960.7 327.1A442.5 442.5 0 0 0 958.3 316.8L911.1 328.1A393.9 393.9 0 0 1 913.2 337.3ZM909.0 319.7L956.0 307.3A442.5 442.5 0 0 0 953.1 296.9L906.4 310.4A393.9 393.9 0 0 1 909.0 319.7ZM903.7 301.4L950.0 286.8A442.5 442.5 0 0 0 946.7 276.6L900.7 292.4A393.9 393.9 0 0 1 903.7 301.4ZM897.0 282.0L942.5 265.0A442.5 442.5 0 0 0 938.6 254.8L893.5 273.0A393.9 393.9 0 0 1 897.0 282.0ZM890.9 266.6L935.6 247.7A442.5 442.5 0 0 0 931.7 238.8L887.4 258.7A393.9 393.9 0 0 1 890.9 266.6ZM883.4 250.1L927.3 229.2A442.5 442.5 0 0 0 922.8 220.0L879.4 242.0A393.9 393.9 0 0 1 883.4 250.1ZM875.3 234.1L918.1 211.1A442.5 442.5 0 0 0 912.5 200.9L870.3 225.0A393.9 393.9 0 0 1 875.3 234.1ZM866.3 218.1L908.0 193.1A442.5 442.5 0 0 0 901.9 183.3L860.9 209.3A393.9 393.9 0 0 1 866.3 218.1ZM856.4 202.5L897.0 175.6A442.5 442.5 0 0 0 891.8 168.0L851.8 195.7A393.9 393.9 0 0 1 856.4 202.5ZM844.4 185.2L883.4 156.3A442.5 442.5 0 0 0 877.6 148.6L839.2 178.4A393.9 393.9 0 0 1 844.4 185.2ZM835.9 174.2L873.8 143.9A442.5 442.5 0 0 0 867.2 135.8L830.0 167.0A393.9 393.9 0 0 1 835.9 174.2ZM823.1 159.0L859.5 126.8A442.5 442.5 0 0 0 853.4 120.0L817.6 153.0A393.9 393.9 0 0 1 823.1 159.0ZM812.2 147.2L847.2 113.5A442.5 442.5 0 0 0 839.4 105.5L805.2 140.0A393.9 393.9 0 0 1 812.2 147.2ZM797.0 132.2L830.2 96.7A442.5 442.5 0 0 0 823.0 90.1L790.6 126.4A393.9 393.9 0 0 1 797.0 132.2ZM784.0 120.5L815.6 83.6A442.5 442.5 0 0 0 807.7 77.0L776.9 114.7A393.9 393.9 0 0 1 784.0 120.5ZM768.6 108.1L798.3 69.6A442.5 442.5 0 0 0 790.1 63.4L761.3 102.5A393.9 393.9 0 0 1 768.6 108.1ZM754.2 97.5L782.1 57.7A442.5 442.5 0 0 0 773.4 51.7L746.4 92.2A393.9 393.9 0 0 1 754.2 97.5ZM740.9 88.5L767.2 47.6A442.5 442.5 0 0 0 758.1 42.0L732.8 83.5A393.9 393.9 0 0 1 740.9 88.5ZM723.4 77.9L747.5 35.7A442.5 442.5 0 0 0 739.3 31.2L716.1 73.9A393.9 393.9 0 0 1 723.4 77.9ZM709.9 70.5L732.3 27.4A442.5 442.5 0 0 0 723.2 22.8L701.8 66.5A393.9 393.9 0 0 1 709.9 70.5ZM691.7 61.6L711.8 17.4A442.5 442.5 0 0 0 702.5 13.3L683.3 58.0A393.9 393.9 0 0 1 691.7 61.6ZM674.9 54.5L693.0 9.4A442.5 442.5 0 0 0 683.8 5.8L666.7 51.3A393.9 393.9 0 0 1 674.9 54.5ZM658.3 48.2L674.4 2.4A442.5 442.5 0 0 0 664.3 -1.0L649.3 45.2A393.9 393.9 0 0 1 658.3 48.2ZM643.7 43.4L657.9 -3.0A442.5 442.5 0 0 0 646.6 -6.4L633.6 40.5A393.9 393.9 0 0 1 643.7 43.4ZM621.5 37.3L633.0 -9.9A442.5 442.5 0 0 0 624.0 -12.0L613.5 35.4A393.9 393.9 0 0 1 621.5 37.3ZM605.4 33.7L614.9 -13.9A442.5 442.5 0 0 0 606.4 -15.6L597.8 32.3A393.9 393.9 0 0 1 605.4 33.7ZM587.6 30.6L594.9 -17.5A442.5 442.5 0 0 0 583.7 -19.0L577.6 29.2A393.9 393.9 0 0 1 587.6 30.6ZM569.0 28.2L574.1 -20.1A442.5 442.5 0 0 0 563.7 -21.1L559.8 27.3A393.9 393.9 0 0 1 569.0 28.2ZM553.6 26.9L556.8 -21.6A442.5 442.5 0 0 0 545.8 -22.2L543.9 26.4A393.9 393.9 0 0 1 553.6 26.9ZM535.6 26.1L536.6 -22.5A442.5 442.5 0 0 0 524.9 -22.5L525.2 26.1A393.9 393.9 0 0 1 535.6 26.1ZM518.8 26.2L517.7 -22.4A442.5 442.5 0 0 0 506.2 -22.0L508.6 26.5A393.9 393.9 0 0 1 518.8 26.2ZM970.5 423.5L1002.9 423.8A474.9 474.9 0 0 0 1002.9 415.1L970.5 415.4A442.5 442.5 0 0 1 970.5 423.5ZM970.4 408.7L1002.8 407.9A474.9 474.9 0 0 0 1002.5 398.4L970.1 399.9A442.5 442.5 0 0 1 970.4 408.7ZM969.8 394.1L1002.1 392.2A474.9 474.9 0 0 0 1001.5 382.5L969.2 385.1A442.5 442.5 0 0 1 969.8 394.1ZM968.2 374.2L1000.4 370.8A474.9 474.9 0 0 0 999.4 361.7L967.2 365.6A442.5 442.5 0 0 1 968.2 374.2ZM966.4 359.3L998.5 354.9A474.9 474.9 0 0 0 997.1 345.4L965.1 350.5A442.5 442.5 0 0 1 966.4 359.3ZM963.2 339.8L995.1 333.9A474.9 474.9 0 0 0 993.6 326.1L961.8 332.5A442.5 442.5 0 0 1 963.2 339.8ZM960.5 326.1L992.1 319.2A474.9 474.9 0 0 0 989.9 309.5L958.4 317.0A442.5 442.5 0 0 1 960.5 326.1ZM956.7 310.3L988.1 302.3A474.9 474.9 0 0 0 986.1 294.7L954.9 303.2A442.5 442.5 0 0 1 956.7 310.3ZM952.9 296.3L984.0 287.2A474.9 474.9 0 0 0 981.2 278.0L950.3 287.7A442.5 442.5 0 0 1 952.9 296.3ZM947.8 280.0L978.6 269.7A474.9 474.9 0 0 0 975.7 261.5L945.2 272.3A442.5 442.5 0 0 1 947.8 280.0ZM941.8 263.0L972.1 251.5A474.9 474.9 0 0 0 968.8 243.2L938.8 255.3A442.5 442.5 0 0 1 941.8 263.0ZM935.0 246.2L964.8 233.5A474.9 474.9 0 0 0 961.8 226.6L932.2 239.8A442.5 442.5 0 0 1 935.0 246.2ZM928.3 231.2L957.6 217.4A474.9 474.9 0 0 0 954.1 210.3L925.1 224.6A442.5 442.5 0 0 1 928.3 231.2ZM922.5 219.5L951.4 204.8A474.9 474.9 0 0 0 947.0 196.4L918.5 211.7A442.5 442.5 0 0 1 922.5 219.5ZM912.8 201.5L941.0 185.5A474.9 474.9 0 0 0 936.4 177.5L908.5 194.0A442.5 442.5 0 0 1 912.8 201.5ZM905.1 188.4L932.7 171.4A474.9 474.9 0 0 0 927.4 162.9L900.1 180.5A442.5 442.5 0 0 1 905.1 188.4ZM895.6 173.6L922.5 155.6A474.9 474.9 0 0 0 918.2 149.2L891.6 167.7A442.5 442.5 0 0 1 895.6 173.6ZM886.6 160.6L912.8 141.6A474.9 474.9 0 0 0 908.0 135.1L882.1 154.5A442.5 442.5 0 0 1 886.6 160.6ZM875.4 145.8L900.8 125.7A474.9 474.9 0 0 0 895.7 119.4L870.6 139.9A442.5 442.5 0 0 1 875.4 145.8ZM867.6 136.3L892.5 115.5A474.9 474.9 0 0 0 885.8 107.7L861.4 129.0A442.5 442.5 0 0 1 867.6 136.3ZM855.8 122.7L879.8 100.9A474.9 474.9 0 0 0 873.6 94.2L850.0 116.4A442.5 442.5 0 0 1 855.8 122.7ZM845.6 111.8L868.8 89.2A474.9 474.9 0 0 0 862.3 82.6L839.5 105.6A442.5 442.5 0 0 1 845.6 111.8ZM833.4 99.7L855.7 76.3A474.9 474.9 0 0 0 849.6 70.5L827.7 94.4A442.5 442.5 0 0 1 833.4 99.7ZM821.3 88.6L842.8 64.4A474.9 474.9 0 0 0 835.7 58.2L814.7 82.9A442.5 442.5 0 0 1 821.3 88.6ZM808.7 77.9L829.3 52.8A474.9 474.9 0 0 0 821.9 46.9L801.8 72.3A442.5 442.5 0 0 1 808.7 77.9ZM794.8 66.9L814.3 41.1A474.9 474.9 0 0 0 807.0 35.6L787.9 61.8A442.5 442.5 0 0 1 794.8 66.9ZM782.2 57.7L800.8 31.2A474.9 474.9 0 0 0 793.9 26.5L775.8 53.3A442.5 442.5 0 0 1 782.2 57.7ZM769.5 49.1L787.2 22.0A474.9 474.9 0 0 0 779.2 16.9L762.0 44.4A442.5 442.5 0 0 1 769.5 49.1ZM751.4 38.0L767.7 10.0A474.9 474.9 0 0 0 760.5 5.9L744.6 34.1A442.5 442.5 0 0 1 751.4 38.0ZM739.2 31.1L754.6 2.6A474.9 474.9 0 0 0 747.2 -1.3L732.2 27.4A442.5 442.5 0 0 1 739.2 31.1ZM724.1 23.3L738.4 -5.8A474.9 474.9 0 0 0 729.4 -10.1L715.7 19.2A442.5 442.5 0 0 1 724.1 23.3ZM709.3 16.3L722.6 -13.3A474.9 474.9 0 0 0 713.3 -17.3L700.6 12.5A442.5 442.5 0 0 1 709.3 16.3ZM694.7 10.1L706.9 -20.0A474.9 474.9 0 0 0 699.4 -22.9L687.7 7.3A442.5 442.5 0 0 1 694.7 10.1ZM679.5 4.2L690.6 -26.3A474.9 474.9 0 0 0 681.3 -29.5L670.9 1.1A442.5 442.5 0 0 1 679.5 4.2ZM661.8 -1.8L671.6 -32.7A474.9 474.9 0 0 0 664.2 -35.0L654.9 -4.0A442.5 442.5 0 0 1 661.8 -1.8ZM646.5 -6.4L655.2 -37.6A474.9 474.9 0 0 0 647.9 -39.6L639.7 -8.2A442.5 442.5 0 0 1 646.5 -6.4ZM631.1 -10.4L638.6 -41.9A474.9 474.9 0 0 0 628.6 -44.2L621.8 -12.5A442.5 442.5 0 0 1 631.1 -10.4ZM616.5 -13.6L622.9 -45.4A474.9 474.9 0 0 0 614.1 -47.1L608.2 -15.2A442.5 442.5 0 0 1 616.5 -13.6ZM599.3 -16.8L604.5 -48.7A474.9 474.9 0 0 0 595.3 -50.2L590.7 -18.1A442.5 442.5 0 0 1 599.3 -16.8ZM584.3 -19.0L588.4 -51.1A474.9 474.9 0 0 0 578.9 -52.2L575.4 -20.0A442.5 442.5 0 0 1 584.3 -19.0ZM568.0 -20.7L570.9 -53.0A474.9 474.9 0 0 0 561.8 -53.7L559.5 -21.4A442.5 442.5 0 0 1 568.0 -20.7ZM549.1 -22.0L550.6 -54.4A474.9 474.9 0 0 0 540.9 -54.8L540.0 -22.4A442.5 442.5 0 0 1 549.1 -22.0ZM529.8 -22.5L530.0 -54.9A474.9 474.9 0 0 0 522.3 -54.9L522.7 -22.5A442.5 442.5 0 0 1 529.8 -22.5ZM517.4 -22.4L516.6 -54.8A474.9 474.9 0 0 0 507.1 -54.5L508.5 -22.1A442.5 442.5 0 0 1 517.4 -22.4ZM1002.9 422.0L1051.5 422.2A523.5 523.5 0 0 0 1051.5 412.9L1002.9 413.5A474.9 474.9 0 0 1 1002.9 422.0ZM1002.7 403.9L1051.2 402.2A523.5 523.5 0 0 0 1050.8 392.8L1002.3 395.3A474.9 474.9 0 0 1 1002.7 403.9ZM1001.6 383.7L1050.0 379.9A523.5 523.5 0 0 0 1049.3 371.6L1000.9 376.1A474.9 474.9 0 0 1 1001.6 383.7ZM1000.2 369.3L1048.6 364.1A523.5 523.5 0 0 0 1047.6 355.8L999.4 361.7A474.9 474.9 0 0 1 1000.2 369.3ZM998.0 351.9L1046.1 344.9A523.5 523.5 0 0 0 1044.9 336.8L996.9 344.5A474.9 474.9 0 0 1 998.0 351.9ZM995.7 337.5L1043.6 329.1A523.5 523.5 0 0 0 1041.7 319.1L994.0 328.5A474.9 474.9 0 0 1 995.7 337.5ZM991.4 316.0L1038.8 305.3A523.5 523.5 0 0 0 1036.8 296.5L989.5 308.0A474.9 474.9 0 0 1 991.4 316.0ZM987.9 301.3L1034.9 289.1A523.5 523.5 0 0 0 1032.2 279.0L985.4 292.1A474.9 474.9 0 0 1 987.9 301.3ZM983.3 284.9L1029.9 271.0A523.5 523.5 0 0 0 1027.5 263.2L981.2 277.8A474.9 474.9 0 0 1 983.3 284.9ZM978.8 270.6L1025.0 255.3A523.5 523.5 0 0 0 1021.6 245.3L975.7 261.6A474.9 474.9 0 0 1 978.8 270.6ZM971.9 251.2L1017.3 233.9A523.5 523.5 0 0 0 1014.2 225.9L969.1 243.9A474.9 474.9 0 0 1 971.9 251.2ZM964.9 233.6L1009.6 214.6A523.5 523.5 0 0 0 1006.4 207.2L962.0 227.0A474.9 474.9 0 0 1 964.9 233.6ZM958.2 218.8L1002.3 198.3A523.5 523.5 0 0 0 998.1 189.5L954.4 210.9A474.9 474.9 0 0 1 958.2 218.8ZM950.5 203.1L993.8 180.9A523.5 523.5 0 0 0 989.0 171.9L946.2 194.9A474.9 474.9 0 0 1 950.5 203.1ZM943.2 189.4L985.7 165.8A523.5 523.5 0 0 0 981.7 158.7L939.5 182.9A474.9 474.9 0 0 1 943.2 189.4ZM933.1 172.1L974.6 146.7A523.5 523.5 0 0 0 969.8 139.0L928.8 165.1A474.9 474.9 0 0 1 933.1 172.1ZM925.4 159.9L966.1 133.3A523.5 523.5 0 0 0 960.3 124.6L920.1 152.0A474.9 474.9 0 0 1 925.4 159.9ZM916.5 146.8L956.3 118.8A523.5 523.5 0 0 0 949.9 110.0L910.7 138.8A474.9 474.9 0 0 1 916.5 146.8ZM905.9 132.3L944.6 102.8A523.5 523.5 0 0 0 938.6 95.2L900.5 125.4A474.9 474.9 0 0 1 905.9 132.3ZM892.2 115.1L929.5 83.9A523.5 523.5 0 0 0 924.1 77.7L887.3 109.4A474.9 474.9 0 0 1 892.2 115.1ZM882.4 103.8L918.6 71.4A523.5 523.5 0 0 0 912.5 64.7L876.8 97.7A474.9 474.9 0 0 1 882.4 103.8ZM870.5 91.0L905.6 57.3A523.5 523.5 0 0 0 899.5 51.1L865.0 85.3A474.9 474.9 0 0 1 870.5 91.0ZM857.1 77.6L890.8 42.5A523.5 523.5 0 0 0 884.9 37.0L851.8 72.5A474.9 474.9 0 0 1 857.1 77.6ZM844.6 66.0L877.0 29.7A523.5 523.5 0 0 0 870.2 23.8L838.5 60.6A474.9 474.9 0 0 1 844.6 66.0ZM833.4 56.2L864.6 19.0A523.5 523.5 0 0 0 856.4 12.3L826.0 50.1A474.9 474.9 0 0 1 833.4 56.2ZM819.7 45.1L849.5 6.8A523.5 523.5 0 0 0 841.8 0.9L812.6 39.8A474.9 474.9 0 0 1 819.7 45.1ZM807.4 35.9L836.0 -3.4A523.5 523.5 0 0 0 827.4 -9.5L799.7 30.4A474.9 474.9 0 0 1 807.4 35.9ZM792.3 25.4L819.4 -15.0A523.5 523.5 0 0 0 810.6 -20.7L784.3 20.2A474.9 474.9 0 0 1 792.3 25.4ZM776.6 15.3L802.1 -26.1A523.5 523.5 0 0 0 793.4 -31.3L768.8 10.6A474.9 474.9 0 0 1 776.6 15.3ZM759.5 5.3L783.2 -37.1A523.5 523.5 0 0 0 775.3 -41.5L752.4 1.4A474.9 474.9 0 0 1 759.5 5.3ZM746.6 -1.7L768.9 -44.8A523.5 523.5 0 0 0 760.2 -49.2L738.7 -5.7A474.9 474.9 0 0 1 746.6 -1.7ZM732.1 -8.9L753.0 -52.7A523.5 523.5 0 0 0 743.5 -57.2L723.5 -12.9A474.9 474.9 0 0 1 732.1 -8.9ZM712.3 -17.7L731.1 -62.5A523.5 523.5 0 0 0 723.5 -65.7L705.3 -20.6A474.9 474.9 0 0 1 712.3 -17.7ZM698.1 -23.5L715.5 -68.8A523.5 523.5 0 0 0 706.9 -72.0L690.3 -26.3A474.9 474.9 0 0 1 698.1 -23.5ZM684.0 -28.6L700.0 -74.5A523.5 523.5 0 0 0 691.1 -77.5L675.9 -31.3A474.9 474.9 0 0 1 684.0 -28.6ZM668.0 -33.8L682.4 -80.3A523.5 523.5 0 0 0 672.7 -83.2L659.3 -36.5A474.9 474.9 0 0 1 668.0 -33.8ZM650.1 -39.0L662.6 -86.0A523.5 523.5 0 0 0 652.3 -88.6L640.8 -41.4A474.9 474.9 0 0 1 650.1 -39.0ZM633.2 -43.2L643.9 -90.6A523.5 523.5 0 0 0 635.3 -92.4L625.3 -44.9A474.9 474.9 0 0 1 633.2 -43.2ZM614.7 -47.0L623.6 -94.7A523.5 523.5 0 0 0 615.4 -96.2L607.2 -48.3A474.9 474.9 0 0 1 614.7 -47.0ZM601.1 -49.3L608.6 -97.3A523.5 523.5 0 0 0 597.9 -98.9L591.4 -50.7A474.9 474.9 0 0 1 601.1 -49.3ZM579.3 -52.2L584.5 -100.5A523.5 523.5 0 0 0 575.4 -101.4L571.0 -53.0A474.9 474.9 0 0 1 579.3 -52.2ZM563.2 -53.6L566.8 -102.1A523.5 523.5 0 0 0 557.4 -102.7L554.7 -54.2A474.9 474.9 0 0 1 563.2 -53.6ZM547.0 -54.6L548.9 -103.1A523.5 523.5 0 0 0 540.8 -103.4L539.6 -54.8A474.9 474.9 0 0 1 547.0 -54.6ZM528.4 -54.9L528.4 -103.5A523.5 523.5 0 0 0 520.1 -103.5L520.8 -54.9A474.9 474.9 0 0 1 528.4 -54.9ZM514.2 -54.8L512.8 -103.3A523.5 523.5 0 0 0 502.6 -102.9L504.9 -54.4A474.9 474.9 0 0 1 514.2 -54.8ZM1051.5 419.7L1100.1 419.7A572.1 572.1 0 0 0 1100.0 408.9L1051.5 409.8A523.5 523.5 0 0 1 1051.5 419.7ZM1051.2 401.6L1099.8 399.9A572.1 572.1 0 0 0 1099.4 390.1L1050.8 392.6A523.5 523.5 0 0 1 1051.2 401.6ZM1050.1 381.1L1098.6 377.5A572.1 572.1 0 0 0 1097.8 367.7L1049.4 372.1A523.5 523.5 0 0 1 1050.1 381.1ZM1048.7 365.9L1097.1 360.8A572.1 572.1 0 0 0 1095.8 349.4L1047.6 355.4A523.5 523.5 0 0 1 1048.7 365.9ZM1046.4 346.4L1094.5 339.6A572.1 572.1 0 0 0 1093.0 329.5L1045.0 337.2A523.5 523.5 0 0 1 1046.4 346.4ZM1043.3 327.2L1091.1 318.6A572.1 572.1 0 0 0 1089.5 310.2L1041.8 319.6A523.5 523.5 0 0 1 1043.3 327.2ZM1039.7 309.4L1087.2 299.1A572.1 572.1 0 0 0 1085.2 290.2L1037.9 301.2A523.5 523.5 0 0 1 1039.7 309.4ZM1035.7 292.2L1082.8 280.3A572.1 572.1 0 0 0 1080.5 271.2L1033.5 283.8A523.5 523.5 0 0 1 1035.7 292.2ZM1031.3 275.9L1078.0 262.5A572.1 572.1 0 0 0 1074.8 251.5L1028.3 265.8A523.5 523.5 0 0 1 1031.3 275.9ZM1026.3 259.3L1072.5 244.4A572.1 572.1 0 0 0 1069.4 235.0L1023.4 250.7A523.5 523.5 0 0 1 1026.3 259.3ZM1019.9 240.8L1065.6 224.1A572.1 572.1 0 0 0 1062.1 214.9L1016.8 232.4A523.5 523.5 0 0 1 1019.9 240.8ZM1013.8 224.7L1058.9 206.6A572.1 572.1 0 0 0 1055.2 197.8L1010.5 216.7A523.5 523.5 0 0 1 1013.8 224.7ZM1005.3 204.9L1049.6 184.9A572.1 572.1 0 0 0 1045.9 176.8L1001.9 197.5A523.5 523.5 0 0 1 1005.3 204.9ZM997.7 188.8L1041.3 167.4A572.1 572.1 0 0 0 1036.9 158.5L993.7 180.7A523.5 523.5 0 0 1 997.7 188.8ZM990.0 173.8L1032.9 150.9A572.1 572.1 0 0 0 1027.5 141.0L985.1 164.7A523.5 523.5 0 0 1 990.0 173.8ZM982.1 159.4L1024.2 135.2A572.1 572.1 0 0 0 1019.0 126.3L977.3 151.2A523.5 523.5 0 0 1 982.1 159.4ZM970.2 139.7L1011.3 113.7A572.1 572.1 0 0 0 1006.7 106.6L966.0 133.2A523.5 523.5 0 0 1 970.2 139.7ZM963.6 129.6L1004.1 102.6A572.1 572.1 0 0 0 997.7 93.3L957.8 121.1A523.5 523.5 0 0 1 963.6 129.6ZM952.1 113.0L991.5 84.5A572.1 572.1 0 0 0 986.1 77.2L947.1 106.3A523.5 523.5 0 0 1 952.1 113.0ZM941.0 98.2L979.3 68.3A572.1 572.1 0 0 0 972.7 60.0L934.9 90.6A523.5 523.5 0 0 1 941.0 98.2ZM928.4 82.7L965.6 51.4A572.1 572.1 0 0 0 959.9 44.8L923.2 76.7A523.5 523.5 0 0 1 928.4 82.7ZM916.6 69.2L952.7 36.6A572.1 572.1 0 0 0 945.8 29.1L910.3 62.3A523.5 523.5 0 0 1 916.6 69.2ZM904.2 55.9L939.1 22.1A572.1 572.1 0 0 0 931.2 14.1L897.0 48.6A523.5 523.5 0 0 1 904.2 55.9ZM890.0 41.8L923.7 6.7A572.1 572.1 0 0 0 917.1 0.6L884.1 36.2A523.5 523.5 0 0 1 890.0 41.8ZM877.3 30.0L909.8 -6.2A572.1 572.1 0 0 0 902.0 -13.0L870.2 23.8A523.5 523.5 0 0 1 877.3 30.0ZM865.2 19.5L896.5 -17.6A572.1 572.1 0 0 0 888.5 -24.3L857.9 13.4A523.5 523.5 0 0 1 865.2 19.5ZM851.7 8.5L881.8 -29.7A572.1 572.1 0 0 0 873.4 -36.1L844.1 2.6A523.5 523.5 0 0 1 851.7 8.5ZM836.7 -2.8L865.4 -42.1A572.1 572.1 0 0 0 856.8 -48.2L828.9 -8.4A523.5 523.5 0 0 1 836.7 -2.8ZM818.1 -15.8L845.1 -56.3A572.1 572.1 0 0 0 837.4 -61.3L811.2 -20.4A523.5 523.5 0 0 1 818.1 -15.8ZM805.5 -23.9L831.3 -65.1A572.1 572.1 0 0 0 822.3 -70.6L797.3 -29.0A523.5 523.5 0 0 1 805.5 -23.9ZM791.1 -32.7L815.5 -74.7A572.1 572.1 0 0 0 806.5 -79.8L782.9 -37.3A523.5 523.5 0 0 1 791.1 -32.7ZM774.9 -41.7L797.8 -84.5A572.1 572.1 0 0 0 788.8 -89.3L766.6 -46.0A523.5 523.5 0 0 1 774.9 -41.7ZM757.0 -50.8L778.3 -94.5A572.1 572.1 0 0 0 769.4 -98.7L748.9 -54.7A523.5 523.5 0 0 1 757.0 -50.8ZM738.3 -59.5L757.8 -104.0A572.1 572.1 0 0 0 749.5 -107.5L730.7 -62.7A523.5 523.5 0 0 1 738.3 -59.5ZM721.4 -66.5L739.4 -111.7A572.1 572.1 0 0 0 730.9 -115.0L713.6 -69.5A523.5 523.5 0 0 1 721.4 -66.5ZM708.3 -71.5L725.0 -117.2A572.1 572.1 0 0 0 714.3 -121.0L698.5 -75.0A523.5 523.5 0 0 1 708.3 -71.5ZM686.4 -79.0L701.1 -125.3A572.1 572.1 0 0 0 693.0 -127.8L679.0 -81.3A523.5 523.5 0 0 1 686.4 -79.0ZM672.4 -83.3L685.8 -130.0A572.1 572.1 0 0 0 675.1 -132.9L662.6 -85.9A523.5 523.5 0 0 1 672.4 -83.3ZM651.2 -88.9L662.6 -136.1A572.1 572.1 0 0 0 653.9 -138.1L643.2 -90.7A523.5 523.5 0 0 1 651.2 -88.9ZM636.5 -92.2L646.6 -139.7A572.1 572.1 0 0 0 636.9 -141.7L627.7 -94.0A523.5 523.5 0 0 1 636.5 -92.2ZM617.2 -95.9L625.5 -143.8A572.1 572.1 0 0 0 614.8 -145.5L607.5 -97.5A523.5 523.5 0 0 1 617.2 -95.9ZM603.5 -98.1L610.5 -146.2A572.1 572.1 0 0 0 599.6 -147.7L593.5 -99.4A523.5 523.5 0 0 1 603.5 -98.1ZM582.1 -100.7L587.2 -149.1A572.1 572.1 0 0 0 577.4 -150.0L573.2 -101.6A523.5 523.5 0 0 1 582.1 -100.7ZM561.6 -102.5L564.7 -151.0A572.1 572.1 0 0 0 556.2 -151.5L553.8 -102.9A523.5 523.5 0 0 1 561.6 -102.5ZM543.1 -103.3L544.5 -151.9A572.1 572.1 0 0 0 535.5 -152.1L534.8 -103.5A523.5 523.5 0 0 1 543.1 -103.3ZM529.2 -103.5L529.3 -152.1A572.1 572.1 0 0 0 517.9 -152.1L518.8 -103.5A523.5 523.5 0 0 1 529.2 -103.5ZM510.4 -103.3L508.7 -151.8A572.1 572.1 0 0 0 498.4 -151.4L500.9 -102.8A523.5 523.5 0 0 1 510.4 -103.3Z" fill="#000" fill-opacity="0.20"/></g>
</g>
<g clip-path="url(#cpBin)"><g filter="url(#fB2)">
<rect x="526.0" y="29.5" width="394.0" height="392.5" fill="url(#gbR)"/>
</g></g>
</g>
<g clip-path="url(#cpPC)"><g filter="url(#fC)">
<rect x="138" y="446" width="384" height="384" fill="url(#gcR)"/>
<path d="M141.0 450.0A376 376 0 0 0 517.0 826.0V729.5A279.5 279.5 0 0 1 237.5 450.0Z" fill="url(#gcSh)"/>
<g filter="url(#blC)" fill="none">
<path d="M313.9 675.5A303.5 303.5 0 0 0 527.6 753.3" stroke="#000000" stroke-opacity="0.85" stroke-width="5.0"/>
<path d="M235.1 552.6A300.0 300.0 0 0 0 324.2 679.8" stroke="#000000" stroke-opacity="0.45" stroke-width="4.0"/>
<path d="M187.2 438.5A330.0 330.0 0 0 0 528.5 779.8" stroke="#000000" stroke-opacity="0.55" stroke-width="13.0"/>
<path d="M212.5 592.0A336.0 336.0 0 0 0 402.1 765.7" stroke="#000000" stroke-opacity="0.60" stroke-width="8.0"/>
<path d="M195.2 438.8A322.0 322.0 0 0 0 238.1 611.0" stroke="#000000" stroke-opacity="0.50" stroke-width="9.0"/>
<path d="M171.2 437.9A346.0 346.0 0 0 0 203.4 596.2" stroke="#000000" stroke-opacity="0.50" stroke-width="7.0"/>
<path d="M267.6 594.0A288.0 288.0 0 0 0 527.1 737.8" stroke="#ffffff" stroke-opacity="0.12" stroke-width="8.0"/>
<path d="M160.5 512.9A362.0 362.0 0 0 0 529.6 811.8" stroke="#ffffff" stroke-opacity="0.08" stroke-width="9.0"/>
<path d="M338.0 705.6A312.0 312.0 0 0 0 527.9 761.8" stroke="#ffffff" stroke-opacity="0.10" stroke-width="6.0"/>
<path d="M346.1 692.1A296.3 296.3 0 0 0 483.3 744.4" stroke="#000000" stroke-opacity="0.36" stroke-width="3.7"/>
<path d="M250.4 686.1A356.1 356.1 0 0 0 365.9 772.5" stroke="#000000" stroke-opacity="0.23" stroke-width="2.8"/>
<path d="M407.6 767.1A335.4 335.4 0 0 0 464.8 781.3" stroke="#000000" stroke-opacity="0.13" stroke-width="2.8"/>
<path d="M447.3 817.2A373.8 373.8 0 0 0 641.2 802.5" stroke="#000000" stroke-opacity="0.22" stroke-width="4.2"/>
<path d="M500.4 776.9A327.3 327.3 0 0 0 565.8 773.6" stroke="#000000" stroke-opacity="0.37" stroke-width="3.3"/>
<path d="M280.9 622.9A292.6 292.6 0 0 0 426.9 728.4" stroke="#000000" stroke-opacity="0.27" stroke-width="3.9"/>
<path d="M456.6 742.2A298.4 298.4 0 0 0 503.6 748.1" stroke="#ffffff" stroke-opacity="0.08" stroke-width="2.8"/>
<path d="M371.9 791.6A371.1 371.1 0 0 0 592.9 813.2" stroke="#ffffff" stroke-opacity="0.14" stroke-width="4.7"/>
<path d="M438.2 731.6A292.4 292.4 0 0 0 550.8 740.4" stroke="#ffffff" stroke-opacity="0.17" stroke-width="2.7"/>
<path d="M259.0 637.7A319.1 319.1 0 0 0 333.9 711.4" stroke="#ffffff" stroke-opacity="0.10" stroke-width="3.4"/>
<path d="M389.4 703.1A283.5 283.5 0 0 0 439.1 722.6" stroke="#000000" stroke-opacity="0.27" stroke-width="5.5"/>
<path d="M192.9 522.7A332.2 332.2 0 0 0 274.4 676.9" stroke="#ffffff" stroke-opacity="0.13" stroke-width="4.1"/>
<path d="M248.2 578.3A297.8 297.8 0 0 0 284.3 635.9" stroke="#000000" stroke-opacity="0.30" stroke-width="5.2"/>
<path d="M208.0 432.2A309.5 309.5 0 0 0 210.3 492.0" stroke="#ffffff" stroke-opacity="0.10" stroke-width="4.8"/>
<path d="M467.1 790.9A344.6 344.6 0 0 0 634.5 773.9" stroke="#000000" stroke-opacity="0.42" stroke-width="5.4"/>
<path d="M453.2 814.9A370.4 370.4 0 0 0 617.8 806.4" stroke="#000000" stroke-opacity="0.19" stroke-width="3.7"/>
<path d="M155.0 431.5A362.5 362.5 0 0 0 160.0 512.6" stroke="#ffffff" stroke-opacity="0.11" stroke-width="4.8"/>
<path d="M172.6 550.8A358.8 358.8 0 0 0 194.1 606.6" stroke="#000000" stroke-opacity="0.17" stroke-width="3.0"/>
<path d="M475.6 734.5A287.5 287.5 0 0 0 566.2 733.2" stroke="#ffffff" stroke-opacity="0.11" stroke-width="5.4"/>
<path d="M296.6 660.0A304.5 304.5 0 0 0 466.1 750.2" stroke="#000000" stroke-opacity="0.18" stroke-width="4.6"/>
<path d="M454.1 803.4A359.0 359.0 0 0 0 650.1 783.4" stroke="#000000" stroke-opacity="0.29" stroke-width="4.1"/>
<path d="M260.2 702.3A360.0 360.0 0 0 0 346.6 767.1" stroke="#ffffff" stroke-opacity="0.05" stroke-width="3.0"/>
<path d="M175.3 404.4A344.7 344.7 0 0 0 215.5 617.2" stroke="#ffffff" stroke-opacity="0.16" stroke-width="4.1"/>
<path d="M230.7 624.6A335.3 335.3 0 0 0 288.7 695.6" stroke="#ffffff" stroke-opacity="0.07" stroke-width="5.4"/>
<path d="M229.6 412.6A289.8 289.8 0 0 0 227.7 467.2" stroke="#000000" stroke-opacity="0.38" stroke-width="3.6"/>
<path d="M275.0 691.6A341.9 341.9 0 0 0 329.5 735.9" stroke="#000000" stroke-opacity="0.19" stroke-width="3.1"/>
<path d="M256.6 591.6A296.4 296.4 0 0 0 296.9 648.6" stroke="#ffffff" stroke-opacity="0.06" stroke-width="4.5"/>
<path d="M392.5 774.0A347.1 347.1 0 0 0 596.2 788.0" stroke="#000000" stroke-opacity="0.26" stroke-width="4.8"/>
<path d="M232.8 489.3A286.9 286.9 0 0 0 293.4 629.8" stroke="#000000" stroke-opacity="0.33" stroke-width="4.5"/>
<path d="M247.5 603.5A310.2 310.2 0 0 0 275.7 644.9" stroke="#ffffff" stroke-opacity="0.09" stroke-width="3.1"/>
<path d="M498.2 777.3A327.8 327.8 0 0 0 635.5 755.6" stroke="#ffffff" stroke-opacity="0.12" stroke-width="2.3"/>
<path d="M192.3 578.8A349.3 349.3 0 0 0 335.3 748.3" stroke="#ffffff" stroke-opacity="0.12" stroke-width="4.4"/>
<path d="M515.2 736.9A286.9 286.9 0 0 0 669.4 693.1" stroke="#000000" stroke-opacity="0.42" stroke-width="3.2"/>
<path d="M226.3 437.2A291.0 291.0 0 0 0 228.7 489.3" stroke="#ffffff" stroke-opacity="0.11" stroke-width="4.9"/>
<path d="M326.3 730.1A338.8 338.8 0 0 0 370.3 755.4" stroke="#ffffff" stroke-opacity="0.10" stroke-width="3.5"/>
<path d="M199.9 422.1A318.3 318.3 0 0 0 203.3 503.9" stroke="#000000" stroke-opacity="0.33" stroke-width="3.5"/>
<path d="M230.1 662.4A357.0 357.0 0 0 0 373.1 776.7" stroke="#000000" stroke-opacity="0.27" stroke-width="2.8"/>
<path d="M177.3 442.4A339.8 339.8 0 0 0 240.8 647.8" stroke="#000000" stroke-opacity="0.34" stroke-width="3.7"/>
<path d="M302.8 744.1A363.8 363.8 0 0 0 487.3 812.6" stroke="#ffffff" stroke-opacity="0.16" stroke-width="4.7"/>
<path d="M182.8 539.7A346.0 346.0 0 0 0 266.1 688.2" stroke="#000000" stroke-opacity="0.30" stroke-width="5.2"/>
<path d="M522.6 807.7A357.7 357.7 0 0 0 736.3 732.6" stroke="#000000" stroke-opacity="0.21" stroke-width="2.0"/>
<path d="M298.2 680.0A317.4 317.4 0 0 0 352.6 721.5" stroke="#000000" stroke-opacity="0.40" stroke-width="2.3"/>
<path d="M167.0 456.3A350.0 350.0 0 0 0 194.6 586.3" stroke="#ffffff" stroke-opacity="0.08" stroke-width="5.3"/>
<path d="M358.7 719.1A312.2 312.2 0 0 0 499.4 761.7" stroke="#ffffff" stroke-opacity="0.09" stroke-width="2.9"/>
<path d="M213.8 480.0A304.6 304.6 0 0 0 280.3 641.8" stroke="#000000" stroke-opacity="0.30" stroke-width="4.4"/>
<path d="M495.4 756.0A306.8 306.8 0 0 0 598.1 745.9" stroke="#000000" stroke-opacity="0.31" stroke-width="3.6"/>
<path d="M249.0 600.0A307.1 307.1 0 0 0 290.4 657.3" stroke="#000000" stroke-opacity="0.41" stroke-width="3.0"/>
<path d="M493.9 733.3A284.2 284.2 0 0 0 648.9 701.7" stroke="#000000" stroke-opacity="0.27" stroke-width="4.5"/>
<path d="M380.9 700.0A284.7 284.7 0 0 0 505.5 734.4" stroke="#000000" stroke-opacity="0.28" stroke-width="2.8"/>
<path d="M283.5 621.6A289.8 289.8 0 0 0 345.0 683.2" stroke="#000000" stroke-opacity="0.16" stroke-width="5.1"/>
<path d="M261.9 696.3A354.6 354.6 0 0 0 435.2 795.1" stroke="#000000" stroke-opacity="0.24" stroke-width="2.2"/>
<path d="M413.4 765.8A332.3 332.3 0 0 0 497.3 781.7" stroke="#ffffff" stroke-opacity="0.16" stroke-width="5.0"/>
<path d="M234.5 441.1A282.6 282.6 0 0 0 258.1 563.5" stroke="#ffffff" stroke-opacity="0.15" stroke-width="5.1"/>
<path d="M430.5 735.7A298.5 298.5 0 0 0 480.3 746.2" stroke="#ffffff" stroke-opacity="0.11" stroke-width="4.1"/>
<path d="M178.1 556.9A355.4 355.4 0 0 0 228.2 657.2" stroke="#000000" stroke-opacity="0.31" stroke-width="3.2"/>
<path d="M153.7 430.3A363.8 363.8 0 0 0 156.0 494.5" stroke="#ffffff" stroke-opacity="0.07" stroke-width="3.8"/>
<path d="M212.7 416.9A306.1 306.1 0 0 0 211.5 469.0" stroke="#ffffff" stroke-opacity="0.13" stroke-width="3.7"/>
<path d="M491.0 744.6A295.7 295.7 0 0 0 548.3 744.1" stroke="#000000" stroke-opacity="0.33" stroke-width="3.9"/>
<path d="M168.5 437.8A348.7 348.7 0 0 0 193.1 579.1" stroke="#000000" stroke-opacity="0.13" stroke-width="4.9"/>
<path d="M332.9 704.1A313.8 313.8 0 0 0 452.1 757.0" stroke="#ffffff" stroke-opacity="0.11" stroke-width="2.6"/>
<path d="M426.9 732.0A296.1 296.1 0 0 0 597.7 734.9" stroke="#ffffff" stroke-opacity="0.08" stroke-width="5.2"/>
<path d="M264.5 697.2A353.3 353.3 0 0 0 452.5 797.4" stroke="#ffffff" stroke-opacity="0.10" stroke-width="5.2"/>
<path d="M396.8 798.5A368.6 368.6 0 0 0 625.2 802.3" stroke="#000000" stroke-opacity="0.30" stroke-width="2.0"/>
<path d="M328.2 729.7A337.5 337.5 0 0 0 497.3 786.9" stroke="#ffffff" stroke-opacity="0.12" stroke-width="2.6"/>
<path d="M528.4 812.8A363.0 363.0 0 0 0 617.1 798.9" stroke="#ffffff" stroke-opacity="0.15" stroke-width="3.9"/>
<path d="M154.0 440.2A363.1 363.1 0 0 0 170.4 558.1" stroke="#000000" stroke-opacity="0.28" stroke-width="3.4"/>
<path d="M160.8 471.0A356.8 356.8 0 0 0 186.7 585.0" stroke="#000000" stroke-opacity="0.29" stroke-width="2.1"/>
<path d="M239.3 506.6A283.4 283.4 0 0 0 298.2 630.2" stroke="#ffffff" stroke-opacity="0.12" stroke-width="2.4"/>
<path d="M153.1 466.1A364.2 364.2 0 0 0 189.5 609.4" stroke="#000000" stroke-opacity="0.31" stroke-width="2.8"/>
<path d="M321.7 743.7A352.7 352.7 0 0 0 498.1 802.2" stroke="#000000" stroke-opacity="0.23" stroke-width="2.9"/>
<path d="M285.5 680.3A326.5 326.5 0 0 0 357.8 735.1" stroke="#000000" stroke-opacity="0.37" stroke-width="3.6"/>
<path d="M375.9 754.4A335.5 335.5 0 0 0 559.1 782.9" stroke="#ffffff" stroke-opacity="0.10" stroke-width="4.6"/>
<path d="M347.6 718.6A317.6 317.6 0 0 0 387.2 739.9" stroke="#ffffff" stroke-opacity="0.18" stroke-width="4.0"/>
<path d="M389.9 721.0A299.3 299.3 0 0 0 463.5 744.5" stroke="#000000" stroke-opacity="0.14" stroke-width="4.8"/>
<path d="M278.9 656.9A315.4 315.4 0 0 0 428.9 752.9" stroke="#000000" stroke-opacity="0.31" stroke-width="3.6"/>
<path d="M448.5 779.6A336.7 336.7 0 0 0 615.7 771.9" stroke="#000000" stroke-opacity="0.20" stroke-width="4.6"/>
<path d="M484.2 802.2A353.7 353.7 0 0 0 674.6 766.7" stroke="#ffffff" stroke-opacity="0.17" stroke-width="2.7"/>
<path d="M350.2 685.0A288.2 288.2 0 0 0 427.3 723.9" stroke="#ffffff" stroke-opacity="0.08" stroke-width="2.5"/>
<path d="M180.4 523.1A344.5 344.5 0 0 0 216.1 617.7" stroke="#000000" stroke-opacity="0.33" stroke-width="2.7"/>
<path d="M242.2 573.4A301.3 301.3 0 0 0 334.7 689.9" stroke="#000000" stroke-opacity="0.18" stroke-width="4.3"/>
<path d="M374.5 707.3A294.1 294.1 0 0 0 420.1 727.7" stroke="#000000" stroke-opacity="0.38" stroke-width="3.4"/>
<path d="M366.7 757.1A341.9 341.9 0 0 0 414.5 776.2" stroke="#000000" stroke-opacity="0.27" stroke-width="4.1"/>
<path d="M303.9 753.1A370.5 370.5 0 0 0 415.6 806.3" stroke="#000000" stroke-opacity="0.22" stroke-width="4.2"/>
<path d="M235.1 659.4A351.2 351.2 0 0 0 361.3 764.8" stroke="#000000" stroke-opacity="0.36" stroke-width="3.8"/>
<path d="M289.4 617.9A282.8 282.8 0 0 0 391.7 703.6" stroke="#ffffff" stroke-opacity="0.13" stroke-width="2.8"/>
<path d="M230.0 484.4A289.1 289.1 0 0 0 265.5 592.5" stroke="#000000" stroke-opacity="0.22" stroke-width="4.8"/>
<path d="M219.7 497.3A301.0 301.0 0 0 0 231.5 545.4" stroke="#ffffff" stroke-opacity="0.16" stroke-width="2.5"/>
<path d="M302.0 661.4A301.6 301.6 0 0 0 347.8 699.6" stroke="#000000" stroke-opacity="0.35" stroke-width="2.4"/>
<path d="M304.7 661.9A299.9 299.9 0 0 0 434.0 738.2" stroke="#000000" stroke-opacity="0.30" stroke-width="2.3"/>
<path d="M326.1 668.3A290.0 290.0 0 0 0 385.1 708.2" stroke="#ffffff" stroke-opacity="0.14" stroke-width="4.9"/>
<path d="M256.5 557.6A281.8 281.8 0 0 0 299.6 629.4" stroke="#000000" stroke-opacity="0.36" stroke-width="5.2"/>
<path d="M472.2 730.6A284.2 284.2 0 0 0 585.2 725.9" stroke="#ffffff" stroke-opacity="0.07" stroke-width="4.7"/>
<path d="M506.7 817.0A367.1 367.1 0 0 0 573.1 812.8" stroke="#ffffff" stroke-opacity="0.12" stroke-width="4.7"/>
<path d="M358.8 700.5A296.2 296.2 0 0 0 445.1 737.4" stroke="#000000" stroke-opacity="0.36" stroke-width="4.3"/>
<path d="M231.1 446.1A286.0 286.0 0 0 0 241.9 528.1" stroke="#ffffff" stroke-opacity="0.15" stroke-width="3.1"/>
<path d="M222.2 457.4A294.9 294.9 0 0 0 237.7 544.5" stroke="#000000" stroke-opacity="0.19" stroke-width="4.3"/>
<path d="M253.2 623.7A315.8 315.8 0 0 0 395.2 741.4" stroke="#ffffff" stroke-opacity="0.11" stroke-width="4.4"/>
<path d="M189.5 509.1A332.7 332.7 0 0 0 226.4 612.1" stroke="#000000" stroke-opacity="0.22" stroke-width="3.7"/>
<path d="M267.9 614.2A298.3 298.3 0 0 0 409.1 728.2" stroke="#000000" stroke-opacity="0.18" stroke-width="2.7"/>
<path d="M325.5 756.9A361.8 361.8 0 0 0 430.4 801.2" stroke="#ffffff" stroke-opacity="0.11" stroke-width="2.8"/>
<path d="M209.3 615.6A349.5 349.5 0 0 0 302.5 725.9" stroke="#ffffff" stroke-opacity="0.16" stroke-width="3.0"/>
<path d="M200.3 587.7A345.3 345.3 0 0 0 276.7 698.0" stroke="#ffffff" stroke-opacity="0.07" stroke-width="5.1"/>
<path d="M339.4 744.8A344.2 344.2 0 0 0 517.6 794.2" stroke="#ffffff" stroke-opacity="0.08" stroke-width="5.4"/>
<path d="M189.3 629.7A373.7 373.7 0 0 0 260.1 721.4" stroke="#000000" stroke-opacity="0.24" stroke-width="5.4"/>
<path d="M193.0 550.5A339.2 339.2 0 0 0 233.9 636.8" stroke="#ffffff" stroke-opacity="0.15" stroke-width="4.8"/>
<path d="M462.4 800.2A354.5 354.5 0 0 0 668.5 770.4" stroke="#ffffff" stroke-opacity="0.11" stroke-width="4.9"/>
<path d="M510.2 796.2A346.2 346.2 0 0 0 648.3 770.4" stroke="#000000" stroke-opacity="0.32" stroke-width="4.3"/>
<path d="M248.3 601.4A308.4 308.4 0 0 0 285.2 653.5" stroke="#000000" stroke-opacity="0.15" stroke-width="2.5"/>
<path d="M195.0 421.5A323.3 323.3 0 0 0 226.1 590.9" stroke="#000000" stroke-opacity="0.27" stroke-width="4.2"/>
<path d="M375.1 723.9A308.5 308.5 0 0 0 484.7 756.8" stroke="#000000" stroke-opacity="0.34" stroke-width="3.4"/>
<path d="M378.2 706.6A291.8 291.8 0 0 0 466.6 737.4" stroke="#ffffff" stroke-opacity="0.08" stroke-width="4.9"/>
<path d="M355.6 748.3A339.1 339.1 0 0 0 452.1 782.9" stroke="#000000" stroke-opacity="0.22" stroke-width="5.0"/>
<path d="M303.2 749.6A368.1 368.1 0 0 0 409.7 802.1" stroke="#000000" stroke-opacity="0.36" stroke-width="4.9"/>
<path d="M237.8 484.4A281.3 281.3 0 0 0 262.5 570.0" stroke="#000000" stroke-opacity="0.13" stroke-width="3.2"/>
<path d="M281.2 716.3A355.7 355.7 0 0 0 348.2 763.1" stroke="#ffffff" stroke-opacity="0.16" stroke-width="3.9"/>
<path d="M387.9 763.3A338.8 338.8 0 0 0 462.1 784.3" stroke="#ffffff" stroke-opacity="0.09" stroke-width="2.3"/>
<path d="M254.4 604.1A304.5 304.5 0 0 0 301.3 665.0" stroke="#ffffff" stroke-opacity="0.15" stroke-width="4.8"/>
<path d="M195.3 585.0A348.8 348.8 0 0 0 242.4 665.2" stroke="#000000" stroke-opacity="0.38" stroke-width="3.1"/>
<path d="M506.5 823.5A373.6 373.6 0 0 0 574.8 819.1" stroke="#000000" stroke-opacity="0.33" stroke-width="5.2"/>
<path d="M303.1 732.0A354.0 354.0 0 0 0 375.4 774.4" stroke="#ffffff" stroke-opacity="0.17" stroke-width="5.4"/>
<path d="M294.5 634.2A288.9 288.9 0 0 0 413.8 719.8" stroke="#000000" stroke-opacity="0.28" stroke-width="5.2"/>
<path d="M387.5 712.0A292.2 292.2 0 0 0 546.7 740.7" stroke="#000000" stroke-opacity="0.16" stroke-width="2.1"/>
<path d="M177.6 428.6A340.1 340.1 0 0 0 204.6 584.5" stroke="#ffffff" stroke-opacity="0.11" stroke-width="5.3"/>
<path d="M310.3 712.9A334.4 334.4 0 0 0 406.7 765.7" stroke="#000000" stroke-opacity="0.34" stroke-width="3.4"/>
<path d="M404.7 726.4A298.3 298.3 0 0 0 490.2 747.1" stroke="#000000" stroke-opacity="0.39" stroke-width="2.8"/>
<path d="M242.7 560.7A295.8 295.8 0 0 0 298.2 649.1" stroke="#000000" stroke-opacity="0.28" stroke-width="2.9"/>
<path d="M226.2 425.6A291.8 291.8 0 0 0 241.4 546.0" stroke="#000000" stroke-opacity="0.19" stroke-width="2.3"/>
<path d="M437.9 752.6A312.8 312.8 0 0 0 528.4 762.6" stroke="#000000" stroke-opacity="0.35" stroke-width="4.3"/>
<path d="M308.6 724.7A344.8 344.8 0 0 0 400.7 774.6" stroke="#ffffff" stroke-opacity="0.15" stroke-width="4.6"/>
<path d="M191.9 549.0A339.8 339.8 0 0 0 311.4 720.6" stroke="#ffffff" stroke-opacity="0.12" stroke-width="4.4"/>
<path d="M355.8 777.7A365.2 365.2 0 0 0 420.3 802.1" stroke="#ffffff" stroke-opacity="0.11" stroke-width="2.9"/>
<path d="M199.4 542.4A330.8 330.8 0 0 0 235.5 623.7" stroke="#ffffff" stroke-opacity="0.13" stroke-width="5.0"/>
<path d="M510.6 741.7A291.8 291.8 0 0 0 595.2 731.1" stroke="#ffffff" stroke-opacity="0.14" stroke-width="2.7"/>
<path d="M511.0 778.4A328.5 328.5 0 0 0 648.4 751.0" stroke="#000000" stroke-opacity="0.25" stroke-width="4.7"/>
<path d="M351.4 723.9A320.0 320.0 0 0 0 502.3 769.7" stroke="#ffffff" stroke-opacity="0.11" stroke-width="2.9"/>
<path d="M268.7 584.5A282.4 282.4 0 0 0 318.0 650.4" stroke="#ffffff" stroke-opacity="0.18" stroke-width="2.7"/>
<path d="M437.0 808.8A367.6 367.6 0 0 0 608.0 806.2" stroke="#ffffff" stroke-opacity="0.17" stroke-width="3.7"/>
<path d="M264.4 585.2A286.5 286.5 0 0 0 321.7 659.7" stroke="#000000" stroke-opacity="0.14" stroke-width="3.2"/>
<path d="M182.9 532.6A344.2 344.2 0 0 0 298.5 715.9" stroke="#000000" stroke-opacity="0.36" stroke-width="2.7"/>
<path d="M217.6 490.0A302.1 302.1 0 0 0 281.4 639.0" stroke="#ffffff" stroke-opacity="0.14" stroke-width="4.1"/>
<path d="M449.5 730.9A288.9 288.9 0 0 0 630.8 715.5" stroke="#ffffff" stroke-opacity="0.13" stroke-width="3.7"/>
<path d="M433.8 734.8A296.7 296.7 0 0 0 535.8 746.1" stroke="#000000" stroke-opacity="0.17" stroke-width="3.6"/>
<path d="M348.7 696.3A298.3 298.3 0 0 0 471.6 744.8" stroke="#000000" stroke-opacity="0.41" stroke-width="3.6"/>
<path d="M209.7 509.0A312.9 312.9 0 0 0 273.9 647.0" stroke="#000000" stroke-opacity="0.15" stroke-width="3.8"/>
<path d="M243.5 600.8A312.3 312.3 0 0 0 278.9 652.1" stroke="#ffffff" stroke-opacity="0.15" stroke-width="4.3"/>
<path d="M375.3 742.9A325.4 325.4 0 0 0 431.2 763.9" stroke="#ffffff" stroke-opacity="0.18" stroke-width="3.4"/>
<path d="M221.9 597.1A329.8 329.8 0 0 0 272.0 670.7" stroke="#000000" stroke-opacity="0.15" stroke-width="3.7"/>
<path d="M425.2 754.5A318.1 318.1 0 0 0 577.2 762.3" stroke="#ffffff" stroke-opacity="0.15" stroke-width="4.7"/>
<path d="M198.7 425.1A319.3 319.3 0 0 0 222.8 574.0" stroke="#ffffff" stroke-opacity="0.08" stroke-width="4.8"/>
<path d="M411.8 757.4A324.9 324.9 0 0 0 501.4 774.5" stroke="#ffffff" stroke-opacity="0.17" stroke-width="3.5"/>
<path d="M309.1 546.6A229.3 229.3 0 0 0 402.8 648.9" stroke="#000000" stroke-opacity="0.02" stroke-width="9.7"/>
<path d="M384.5 495.6A140.1 140.1 0 0 0 475.2 583.7" stroke="#ffffff" stroke-opacity="0.02" stroke-width="8.9"/>
<path d="M517.2 535.0A85.0 85.0 0 0 0 577.5 509.8" stroke="#000000" stroke-opacity="0.02" stroke-width="4.4"/>
<path d="M316.3 606.1A254.2 254.2 0 0 0 542.5 703.0" stroke="#ffffff" stroke-opacity="0.02" stroke-width="8.7"/>
<path d="M379.6 490.6A143.3 143.3 0 0 0 416.7 552.3" stroke="#000000" stroke-opacity="0.02" stroke-width="8.7"/>
<path d="M403.1 445.8A114.0 114.0 0 0 0 440.5 534.5" stroke="#ffffff" stroke-opacity="0.02" stroke-width="6.2"/>
<path d="M382.7 572.5A181.7 181.7 0 0 0 551.8 628.4" stroke="#000000" stroke-opacity="0.02" stroke-width="6.9"/>
<path d="M511.2 546.5A96.7 96.7 0 0 0 580.8 522.6" stroke="#ffffff" stroke-opacity="0.02" stroke-width="8.3"/>
<path d="M403.5 476.8A116.7 116.7 0 0 0 468.0 555.9" stroke="#000000" stroke-opacity="0.02" stroke-width="8.9"/>
<path d="M405.1 440.7A112.3 112.3 0 0 0 436.8 528.6" stroke="#000000" stroke-opacity="0.02" stroke-width="7.6"/>
<path d="M338.0 510.5A188.9 188.9 0 0 0 470.6 633.2" stroke="#ffffff" stroke-opacity="0.02" stroke-width="4.6"/>
<path d="M270.1 422.7A248.4 248.4 0 0 0 338.9 623.2" stroke="#000000" stroke-opacity="0.02" stroke-width="8.5"/>
<path d="M302.5 590.1A256.2 256.2 0 0 0 494.8 705.3" stroke="#ffffff" stroke-opacity="0.02" stroke-width="4.4"/>
<path d="M296.5 419.0A222.6 222.6 0 0 0 311.9 536.6" stroke="#000000" stroke-opacity="0.02" stroke-width="9.4"/>
<path d="M346.4 654.1A266.0 266.0 0 0 0 527.1 715.8" stroke="#ffffff" stroke-opacity="0.02" stroke-width="5.9"/>
<path d="M375.7 613.8A216.3 216.3 0 0 0 575.3 658.3" stroke="#000000" stroke-opacity="0.02" stroke-width="5.6"/>
<path d="M388.2 469.9A130.3 130.3 0 0 0 419.4 536.3" stroke="#000000" stroke-opacity="0.02" stroke-width="4.3"/>
<path d="M376.8 577.1A189.3 189.3 0 0 0 534.5 638.5" stroke="#000000" stroke-opacity="0.02" stroke-width="5.0"/>
<path d="M294.7 515.6A231.7 231.7 0 0 0 459.2 674.4" stroke="#000000" stroke-opacity="0.02" stroke-width="8.2"/>
<path d="M334.8 594.3A232.4 232.4 0 0 0 446.2 671.4" stroke="#ffffff" stroke-opacity="0.02" stroke-width="8.7"/>
<path d="M478.0 535.0A93.5 93.5 0 0 0 569.5 527.4" stroke="#ffffff" stroke-opacity="0.02" stroke-width="6.0"/>
<path d="M422.0 526.0A121.7 121.7 0 0 0 465.4 560.2" stroke="#ffffff" stroke-opacity="0.02" stroke-width="7.9"/>
<path d="M328.8 632.3A262.0 262.0 0 0 0 430.2 697.3" stroke="#ffffff" stroke-opacity="0.02" stroke-width="6.9"/>
<path d="M259.3 488.0A260.5 260.5 0 0 0 294.4 585.2" stroke="#000000" stroke-opacity="0.02" stroke-width="9.0"/>
<path d="M318.5 495.1A203.6 203.6 0 0 0 412.5 624.7" stroke="#000000" stroke-opacity="0.02" stroke-width="9.5"/>
<path d="M425.0 525.2A118.8 118.8 0 0 0 484.1 564.2" stroke="#000000" stroke-opacity="0.02" stroke-width="4.3"/>
<path d="M428.6 506.8A105.0 105.0 0 0 0 475.4 546.4" stroke="#ffffff" stroke-opacity="0.02" stroke-width="9.7"/>
<path d="M487.4 596.1A149.1 149.1 0 0 0 576.2 586.8" stroke="#ffffff" stroke-opacity="0.02" stroke-width="7.6"/>
<path d="M432.5 682.6A247.5 247.5 0 0 0 522.8 697.4" stroke="#ffffff" stroke-opacity="0.02" stroke-width="5.5"/>
<path d="M344.8 555.8A202.1 202.1 0 0 0 463.5 644.9" stroke="#ffffff" stroke-opacity="0.02" stroke-width="7.9"/>
<path d="M457.5 582.3A145.1 145.1 0 0 0 561.4 588.1" stroke="#000000" stroke-opacity="0.02" stroke-width="4.3"/>
<path d="M395.4 649.4A233.5 233.5 0 0 0 496.3 682.6" stroke="#000000" stroke-opacity="0.02" stroke-width="6.7"/>
<path d="M319.4 585.5A239.6 239.6 0 0 0 455.8 681.7" stroke="#000000" stroke-opacity="0.02" stroke-width="7.9"/>
<path d="M389.5 579.6A181.8 181.8 0 0 0 564.4 625.5" stroke="#000000" stroke-opacity="0.02" stroke-width="6.0"/>
<path d="M298.9 594.3A261.5 261.5 0 0 0 529.0 711.3" stroke="#000000" stroke-opacity="0.02" stroke-width="5.6"/>
<path d="M387.1 485.3A134.6 134.6 0 0 0 408.0 529.0" stroke="#000000" stroke-opacity="0.02" stroke-width="6.8"/>
<path d="M476.6 533.6A92.8 92.8 0 0 0 529.3 542.0" stroke="#000000" stroke-opacity="0.02" stroke-width="6.1"/>
<path d="M276.4 569.8A268.7 268.7 0 0 0 474.4 715.4" stroke="#000000" stroke-opacity="0.02" stroke-width="8.9"/>
<path d="M514.7 686.0A236.0 236.0 0 0 0 668.5 631.0" stroke="#ffffff" stroke-opacity="0.02" stroke-width="8.9"/>
<path d="M274.0 482.0A245.1 245.1 0 0 0 306.2 575.0" stroke="#000000" stroke-opacity="0.02" stroke-width="6.1"/>
</g>
</g></g>
<g opacity="0.999"><text transform="translate(10.23 432.98) scale(0.3243 0.3549)" font-size="100" style="font-family:'Liberation Serif',serif;fill:#0a0a0a;stroke:#fff;stroke-width:1.34">10</text><path d="M45.00 413.80H59.40" stroke="#0a0a0a" stroke-width="1.15" fill="none"/><text transform="translate(61.75 420.05) scale(0.2158 0.2423)" font-size="100" style="font-family:'Liberation Serif',serif;fill:#0a0a0a;stroke:#fff;stroke-width:1.34">1</text><text transform="translate(29.11 303.18) scale(0.3265 0.3488)" font-size="100" style="font-family:'Liberation Serif',serif;fill:#0a0a0a;stroke:#fff;stroke-width:1.32">10</text><text transform="translate(62.34 290.42) scale(0.2136 0.2401)" font-size="100" style="font-family:'Liberation Serif',serif;fill:#0a0a0a;stroke:#fff;stroke-width:1.37">0</text><text transform="translate(29.11 173.58) scale(0.3265 0.3488)" font-size="100" style="font-family:'Liberation Serif',serif;fill:#0a0a0a;stroke:#fff;stroke-width:1.32">10</text><text transform="translate(62.00 160.65) scale(0.2057 0.2362)" font-size="100" style="font-family:'Liberation Serif',serif;fill:#0a0a0a;stroke:#fff;stroke-width:1.35">1</text><text transform="translate(29.11 43.98) scale(0.3265 0.3488)" font-size="100" style="font-family:'Liberation Serif',serif;fill:#0a0a0a;stroke:#fff;stroke-width:1.32">10</text><text transform="translate(62.21 30.64) scale(0.2166 0.2278)" font-size="100" style="font-family:'Liberation Serif',serif;fill:#0a0a0a;stroke:#fff;stroke-width:1.30">2</text><text transform="translate(971.58 432.83) scale(0.3411 0.3481)" font-size="100" style="font-family:'Liberation Serif',serif;fill:#0a0a0a;stroke:#fff;stroke-width:1.30">0.0</text><text transform="translate(971.60 303.13) scale(0.3354 0.3481)" font-size="100" style="font-family:'Liberation Serif',serif;fill:#0a0a0a;stroke:#fff;stroke-width:1.31">0.5</text><text transform="translate(971.17 173.33) scale(0.3420 0.3466)" font-size="100" style="font-family:'Liberation Serif',serif;fill:#0a0a0a;stroke:#fff;stroke-width:1.29">1.0</text><text transform="translate(971.26 43.63) scale(0.3325 0.3491)" font-size="100" style="font-family:'Liberation Serif',serif;fill:#0a0a0a;stroke:#fff;stroke-width:1.31">1.5</text><text transform="translate(14.89 460.11) scale(0.1215 0.1836)" font-size="100" style="font-family:'Liberation Serif',serif;fill:#0a0a0a;stroke:#fff;stroke-width:1.51">7</text><path d="M30.30 450.60L38.80 459.10M30.30 459.10L38.80 450.60" stroke="#0a0a0a" stroke-width="0.80" fill="none"/><text transform="translate(45.06 460.04) scale(0.1742 0.1797)" font-size="100" style="font-family:'Liberation Serif',serif;fill:#0a0a0a;stroke:#fff;stroke-width:1.30">10</text><path d="M64.50 448.60H72.40" stroke="#0a0a0a" stroke-width="0.70" fill="none"/><text transform="translate(74.18 452.28) scale(0.1180 0.1266)" font-size="100" style="font-family:'Liberation Serif',serif;fill:#0a0a0a;stroke:#fff;stroke-width:1.31">1</text><text transform="translate(7.19 780.54) scale(0.3821 0.4164)" font-size="100" style="font-family:'Liberation Serif',serif;fill:#0a0a0a;stroke:#fff;stroke-width:1.27">10</text><path d="M47.00 757.90H65.00" stroke="#0a0a0a" stroke-width="1.30" fill="none"/><text transform="translate(67.24 765.18) scale(0.2486 0.2871)" font-size="100" style="font-family:'Liberation Serif',serif;fill:#0a0a0a;stroke:#fff;stroke-width:1.36">1</text><text transform="translate(866.62 481.55) scale(0.4293 0.4093)" font-size="100" style="font-family:'Liberation Serif',serif;fill:#0a0a0a;stroke:#fff;stroke-width:1.22">7</text><path d="M902.20 462.00L921.20 481.00M902.20 481.00L921.20 462.00" stroke="#0a0a0a" stroke-width="1.45" fill="none"/><text transform="translate(935.71 481.45) scale(0.4027 0.4046)" font-size="100" style="font-family:'Liberation Serif',serif;fill:#0a0a0a;stroke:#fff;stroke-width:1.26">10</text><path d="M979.00 455.60H997.80" stroke="#0a0a0a" stroke-width="1.45" fill="none"/><text transform="translate(1001.22 461.86) scale(0.2873 0.2562)" font-size="100" style="font-family:'Liberation Serif',serif;fill:#0a0a0a;stroke:#fff;stroke-width:1.19">1</text><text transform="translate(875.53 600.75) scale(0.3776 0.4090)" font-size="100" style="font-family:'Liberation Serif',serif;fill:#0a0a0a;stroke:#fff;stroke-width:1.29">10</text><path d="M916.40 576.30H933.60" stroke="#0a0a0a" stroke-width="1.45" fill="none"/><text transform="translate(936.52 585.07) scale(0.2399 0.2809)" font-size="100" style="font-family:'Liberation Serif',serif;fill:#0a0a0a;stroke:#fff;stroke-width:1.37">1</text><text transform="translate(874.03 636.59) scale(0.3982 0.3975)" font-size="100" style="font-family:'Liberation Serif',serif;fill:#0a0a0a;stroke:#fff;stroke-width:1.28">0.3</text><text transform="translate(873.84 707.17) scale(0.3970 0.4064)" font-size="100" style="font-family:'Liberation Serif',serif;fill:#0a0a0a;stroke:#fff;stroke-width:1.26">0.0</text><path d="M877.80 768.00H902.30" stroke="#0a0a0a" stroke-width="1.45" fill="none"/><text transform="translate(905.42 778.66) scale(0.4016 0.4137)" font-size="100" style="font-family:'Liberation Serif',serif;fill:#0a0a0a;stroke:#fff;stroke-width:1.24">0.3</text><text transform="translate(962.32 547.45) scale(0.5093 0.4230)" font-size="100" style="font-family:'Liberation Serif',serif;font-style:italic;fill:#0a0a0a;stroke:#fff;stroke-width:1.09">T</text><text transform="translate(959.05 703.14) scale(0.3766 0.4164)" font-size="100" style="font-family:'Liberation Serif',serif;font-style:italic;fill:#0a0a0a;stroke:#fff;stroke-width:1.29">δ</text><text transform="translate(980.09 702.77) scale(0.3948 0.3780)" font-size="100" style="font-family:'Liberation Serif',serif;font-style:italic;fill:#0a0a0a;stroke:#fff;stroke-width:1.28">ϱ</text><text transform="translate(628.60 804.86) scale(0.3831 0.4001)" font-size="100" style="font-family:'Liberation Serif',serif;fill:#0a0a0a;stroke:#fff;stroke-width:1.30">40</text><text transform="translate(770.98 804.86) scale(0.3906 0.4001)" font-size="100" style="font-family:'Liberation Serif',serif;fill:#0a0a0a;stroke:#fff;stroke-width:1.29">50</text><text transform="translate(657.76 849.95) scale(0.4119 0.4035)" font-size="100" style="font-family:'Liberation Serif',serif;font-style:italic;fill:#0a0a0a;stroke:#fff;stroke-width:1.26">k</text><text transform="translate(677.60 855.80) scale(0.2679 0.2824)" font-size="100" style="font-family:'Liberation Serif',serif;fill:#0a0a0a;stroke:#fff;stroke-width:1.32">0</text><text transform="translate(693.18 849.95) scale(0.4495 0.4062)" font-size="100" style="font-family:'Liberation Serif',serif;font-style:italic;fill:#0a0a0a;stroke:#fff;stroke-width:1.18">L</text><path d="M722.6 859.2L735.9 819.0" stroke="#0a0a0a" stroke-width="1.5" fill="none"/><text transform="translate(737.55 849.95) scale(0.4316 0.4153)" font-size="100" style="font-family:'Liberation Serif',serif;fill:#0a0a0a;stroke:#fff;stroke-width:1.21">2</text><text transform="translate(756.70 849.79) scale(0.4442 0.3804)" font-size="100" style="font-family:'Liberation Serif',serif;font-style:italic;fill:#0a0a0a;stroke:#fff;stroke-width:0.82">π</text><text transform="translate(138.71 80.08) scale(0.4692 0.5312)" font-size="100" style="font-family:'Liberation Sans',sans-serif;fill:#ffffff">a</text><text transform="translate(534.39 80.27) scale(0.5604 0.5447)" font-size="100" style="font-family:'Liberation Sans',sans-serif;fill:#ffffff">b</text><text transform="translate(154.75 493.88) scale(0.5288 0.5312)" font-size="100" style="font-family:'Liberation Sans',sans-serif;fill:#ffffff">c</text><text transform="translate(533.15 498.02) scale(0.6315 0.5937)" font-size="100" style="font-family:'Liberation Sans',sans-serif;fill:#0d1b2a">d</text></g>
</svg>
</body></html>
